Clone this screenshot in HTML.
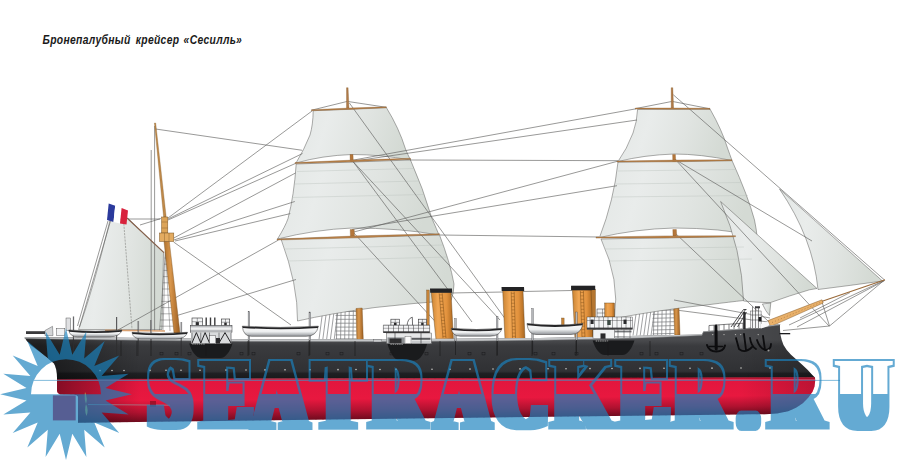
<!DOCTYPE html>
<html lang="ru"><head><meta charset="utf-8"><title>Бронепалубный крейсер «Сесилль»</title>
<style>html,body{margin:0;padding:0;background:#fff;overflow:hidden}svg{display:block}</style>
</head><body>
<svg width="911" height="462" viewBox="0 0 911 462">
<defs>
<linearGradient id="gHull" gradientUnits="userSpaceOnUse" x1="0" y1="340" x2="0" y2="379">
 <stop offset="0" stop-color="#4a4b4e"/>
 <stop offset="0.15" stop-color="#3a3b3e"/>
 <stop offset="0.8" stop-color="#303134"/>
 <stop offset="0.86" stop-color="#1f2023"/>
 <stop offset="1" stop-color="#19191b"/>
</linearGradient>
<linearGradient id="gStern" gradientUnits="userSpaceOnUse" x1="40" y1="0" x2="140" y2="0">
 <stop offset="0" stop-color="#000" stop-opacity="0.5"/>
 <stop offset="1" stop-color="#000" stop-opacity="0"/>
</linearGradient>
<linearGradient id="gBowSh" gradientUnits="userSpaceOnUse" x1="740" y1="0" x2="818" y2="0">
 <stop offset="0" stop-color="#000" stop-opacity="0"/>
 <stop offset="1" stop-color="#000" stop-opacity="0.18"/>
</linearGradient>
<linearGradient id="gFun" x1="0" y1="0" x2="1" y2="0">
 <stop offset="0" stop-color="#c98333"/>
 <stop offset="0.3" stop-color="#f0a653"/>
 <stop offset="0.7" stop-color="#e2923d"/>
 <stop offset="1" stop-color="#a8661f"/>
</linearGradient>
<linearGradient id="gMast" x1="0" y1="0" x2="1" y2="0">
 <stop offset="0" stop-color="#b0722e"/>
 <stop offset="0.4" stop-color="#d8964c"/>
 <stop offset="1" stop-color="#9c5e20"/>
</linearGradient>
<linearGradient id="gBoat" x1="0" y1="0" x2="0" y2="1">
 <stop offset="0" stop-color="#ffffff"/>
 <stop offset="0.55" stop-color="#eceeef"/>
 <stop offset="1" stop-color="#8f9297"/>
</linearGradient>
<linearGradient id="gSail" x1="0" y1="0" x2="1" y2="0.15">
 <stop offset="0" stop-color="#e3e7e5"/>
 <stop offset="0.3" stop-color="#e9eceb"/>
 <stop offset="0.65" stop-color="#e0e4e1"/>
 <stop offset="1" stop-color="#d4dad4"/>
</linearGradient>
<filter id="fWM" filterUnits="userSpaceOnUse" x="0" y="340" width="911" height="110" color-interpolation-filters="sRGB">
 <feMorphology in="SourceAlpha" operator="dilate" radius="7 2" result="F"/>
 <feMorphology in="SourceAlpha" operator="dilate" radius="5 0.4" result="I"/>
 <feFlood flood-color="#fff" x="0" y="340" width="911" height="54" result="top"/>
 <feComposite in="I" in2="top" operator="in" result="Itop"/>
 <feComposite in="F" in2="Itop" operator="out" result="shape"/>
 <feFlood flood-color="rgb(27,130,189)" flood-opacity="0.68" result="col"/>
 <feComposite in="col" in2="shape" operator="in"/>
</filter>
</defs>
<g id="shrouds" stroke="#77797b" stroke-width="0.7" fill="none">
<line x1="319.0" y1="339.5" x2="323.5" y2="305" stroke="#77797b" stroke-width="0.7"/>
<line x1="322.8" y1="339.5" x2="327.3" y2="305" stroke="#77797b" stroke-width="0.7"/>
<line x1="326.6" y1="339.5" x2="331.1" y2="305" stroke="#77797b" stroke-width="0.7"/>
<line x1="330.4" y1="339.5" x2="334.9" y2="305" stroke="#77797b" stroke-width="0.7"/>
<line x1="334.2" y1="339.5" x2="338.7" y2="305" stroke="#77797b" stroke-width="0.7"/>
<line x1="336.5" y1="339.5" x2="337.1" y2="300" stroke="#77797b" stroke-width="0.7"/>
<line x1="340.6" y1="339.5" x2="341.20000000000005" y2="300" stroke="#77797b" stroke-width="0.7"/>
<line x1="344.7" y1="339.5" x2="345.3" y2="300" stroke="#77797b" stroke-width="0.7"/>
<line x1="348.8" y1="339.5" x2="349.40000000000003" y2="300" stroke="#77797b" stroke-width="0.7"/>
<line x1="352.9" y1="339.5" x2="353.5" y2="300" stroke="#77797b" stroke-width="0.7"/>
<line x1="335.5" y1="311.5" x2="356.5" y2="311.5" stroke="#77797b" stroke-width="0.7"/>
<line x1="335.5" y1="315.4" x2="356.5" y2="315.4" stroke="#77797b" stroke-width="0.7"/>
<line x1="335.5" y1="319.3" x2="356.5" y2="319.3" stroke="#77797b" stroke-width="0.7"/>
<line x1="335.5" y1="323.2" x2="356.5" y2="323.2" stroke="#77797b" stroke-width="0.7"/>
<line x1="335.5" y1="327.1" x2="356.5" y2="327.1" stroke="#77797b" stroke-width="0.7"/>
<line x1="335.5" y1="331.0" x2="356.5" y2="331.0" stroke="#77797b" stroke-width="0.7"/>
<line x1="335.5" y1="334.9" x2="356.5" y2="334.9" stroke="#77797b" stroke-width="0.7"/>
<line x1="335.5" y1="338.8" x2="356.5" y2="338.8" stroke="#77797b" stroke-width="0.7"/>
<line x1="633.0" y1="335.5" x2="638.0" y2="300" stroke="#77797b" stroke-width="0.7"/>
<line x1="636.6" y1="335.5" x2="641.6" y2="300" stroke="#77797b" stroke-width="0.7"/>
<line x1="640.2" y1="335.5" x2="645.2" y2="300" stroke="#77797b" stroke-width="0.7"/>
<line x1="643.8" y1="335.5" x2="648.8" y2="300" stroke="#77797b" stroke-width="0.7"/>
<line x1="647.4" y1="335.5" x2="652.4" y2="300" stroke="#77797b" stroke-width="0.7"/>
<line x1="651.0" y1="335.5" x2="656.0" y2="300" stroke="#77797b" stroke-width="0.7"/>
<line x1="653.5" y1="335" x2="654.1" y2="298" stroke="#77797b" stroke-width="0.7"/>
<line x1="657.6" y1="335" x2="658.2" y2="298" stroke="#77797b" stroke-width="0.7"/>
<line x1="661.7" y1="335" x2="662.3000000000001" y2="298" stroke="#77797b" stroke-width="0.7"/>
<line x1="665.8" y1="335" x2="666.4" y2="298" stroke="#77797b" stroke-width="0.7"/>
<line x1="669.9" y1="335" x2="670.5" y2="298" stroke="#77797b" stroke-width="0.7"/>
<line x1="652.5" y1="310.5" x2="674.5" y2="310.0" stroke="#77797b" stroke-width="0.7"/>
<line x1="652.5" y1="314.4" x2="674.5" y2="313.9" stroke="#77797b" stroke-width="0.7"/>
<line x1="652.5" y1="318.3" x2="674.5" y2="317.8" stroke="#77797b" stroke-width="0.7"/>
<line x1="652.5" y1="322.2" x2="674.5" y2="321.7" stroke="#77797b" stroke-width="0.7"/>
<line x1="652.5" y1="326.1" x2="674.5" y2="325.6" stroke="#77797b" stroke-width="0.7"/>
<line x1="652.5" y1="330.0" x2="674.5" y2="329.5" stroke="#77797b" stroke-width="0.7"/>
<line x1="652.5" y1="333.9" x2="674.5" y2="333.4" stroke="#77797b" stroke-width="0.7"/>
</g>
<g id="sails">
<path d="M110,220 L128,218.5 L163.5,252.5 L162,329.5 L78.5,329.5 Q93,290 110,220 Z" fill="url(#gSail)" stroke="#5a5a58" stroke-width="0.5" stroke-linejoin="round"/>
<path d="M313.2,110.7 L386.3,107.5 Q399,128 405.5,149 Q408,155 410.5,160 Q380,154.5 352,154.5 Q322,155.5 296,163 Q304,150 310,135 Q313,125 313.2,110.7 Z" fill="url(#gSail)" stroke="#5a5a58" stroke-width="0.5" stroke-linejoin="round"/>
<path d="M296.2,164 L410.5,160 Q423,188 432,218.6 Q437,230 439,235 Q400,228 352,228 Q315,229.5 277.5,239 Q285.5,226 288,218.6 Q294,196 296.2,164 Z" fill="url(#gSail)" stroke="#5a5a58" stroke-width="0.5" stroke-linejoin="round"/>
<path d="M281,239 L439.5,235 Q450,262 454,284 Q454,293 451,300.5 Q415,303 375,307.5 Q330,313.5 297.5,321 Q298,285 281,239 Z" fill="url(#gSail)" stroke="#5a5a58" stroke-width="0.5" stroke-linejoin="round"/>
<path d="M637.6,109.4 L710,109 Q722,130 727.5,148 Q730,155 732,160.5 Q700,154 674,154 Q644,155 618,161.5 Q627,149 633,133 Q637,122 637.6,109.4 Z" fill="url(#gSail)" stroke="#5a5a58" stroke-width="0.5" stroke-linejoin="round"/>
<path d="M618,162 L732,160.5 Q748,196 754.5,220 Q756.5,230 757,236 Q720,228 674,228 Q635,229 599.5,237.5 Q614,200 618,162 Z" fill="url(#gSail)" stroke="#5a5a58" stroke-width="0.5" stroke-linejoin="round"/>
<path d="M601,239 L736,236.5 Q744,262 745,282 Q745,292 743.5,300.5 Q730,302 710,304.5 Q660,309.8 614.5,318.5 Q620,280 601,239 Z" fill="url(#gSail)" stroke="#5a5a58" stroke-width="0.5" stroke-linejoin="round"/>
<path d="M720.6,201.5 L817,288.5 L809.4,289.8 Q790,295.5 770,302.7 Q756,302.4 743.5,301 Q742,250 720.6,201.5 Z" fill="url(#gSail)" stroke="#5a5a58" stroke-width="0.5" stroke-linejoin="round"/>
<path d="M762.4,304 L770.8,303 L769.5,315.5 Q766,312 762.4,304 Z" fill="url(#gSail)" stroke="#5a5a58" stroke-width="0.5" stroke-linejoin="round"/>
<path d="M779.5,189 L882.5,281 Q850,285.5 818,289.5 Q813,238 779.5,189 Z" fill="url(#gSail)" stroke="#5a5a58" stroke-width="0.5" stroke-linejoin="round"/>
<line x1="297" y1="171.5" x2="414" y2="168.5" stroke="#b9bfba" stroke-width="0.4" fill="none"/>
<line x1="295" y1="184" x2="419" y2="181" stroke="#b9bfba" stroke-width="0.4" fill="none"/>
<line x1="292" y1="197.5" x2="424" y2="194.5" stroke="#b9bfba" stroke-width="0.4" fill="none"/>
<line x1="285" y1="249" x2="443" y2="245" stroke="#b9bfba" stroke-width="0.4" fill="none"/>
<line x1="288" y1="261" x2="448" y2="257" stroke="#b9bfba" stroke-width="0.4" fill="none"/>
<line x1="618" y1="171" x2="736" y2="169.5" stroke="#b9bfba" stroke-width="0.4" fill="none"/>
<line x1="616" y1="184" x2="742" y2="182.5" stroke="#b9bfba" stroke-width="0.4" fill="none"/>
<line x1="612" y1="197" x2="748" y2="195.5" stroke="#b9bfba" stroke-width="0.4" fill="none"/>
<line x1="605" y1="249" x2="744" y2="247" stroke="#b9bfba" stroke-width="0.4" fill="none"/>
<line x1="610" y1="261" x2="752" y2="259" stroke="#b9bfba" stroke-width="0.4" fill="none"/>
</g>
<g id="rigging">
<line x1="636" y1="108.8" x2="351" y2="160.5" stroke="#626260" stroke-width="0.65" fill="none"/>
<line x1="637" y1="120" x2="351" y2="161.5" stroke="#626260" stroke-width="0.65" fill="none"/>
<line x1="410" y1="160" x2="618" y2="160.7" stroke="#626260" stroke-width="0.65" fill="none"/>
<line x1="617" y1="161.4" x2="352" y2="232.5" stroke="#626260" stroke-width="0.65" fill="none"/>
<line x1="617" y1="185.7" x2="352" y2="229.5" stroke="#626260" stroke-width="0.65" fill="none"/>
<line x1="599" y1="237" x2="440" y2="235" stroke="#626260" stroke-width="0.65" fill="none"/>
<line x1="349.4" y1="103" x2="506" y2="320" stroke="#626260" stroke-width="0.65" fill="none"/>
<line x1="353" y1="161.5" x2="500" y2="320" stroke="#626260" stroke-width="0.65" fill="none"/>
<line x1="353" y1="161.5" x2="472" y2="322" stroke="#626260" stroke-width="0.65" fill="none"/>
<line x1="353" y1="232" x2="443" y2="330" stroke="#626260" stroke-width="0.65" fill="none"/>
<line x1="347.3" y1="101.4" x2="311.5" y2="110.2" stroke="#626260" stroke-width="0.65" fill="none"/>
<line x1="347.3" y1="101.4" x2="386.3" y2="107.3" stroke="#626260" stroke-width="0.65" fill="none"/>
<line x1="672.2" y1="101.4" x2="635.4" y2="108.6" stroke="#626260" stroke-width="0.65" fill="none"/>
<line x1="672.2" y1="101.4" x2="710" y2="108.8" stroke="#626260" stroke-width="0.65" fill="none"/>
<line x1="673.3" y1="94.8" x2="884" y2="279.5" stroke="#626260" stroke-width="0.65" fill="none"/>
<line x1="674" y1="158" x2="829" y2="326" stroke="#626260" stroke-width="0.65" fill="none"/>
<line x1="676" y1="160" x2="812" y2="241" stroke="#626260" stroke-width="0.65" fill="none"/>
<line x1="674" y1="232" x2="769" y2="322" stroke="#626260" stroke-width="0.65" fill="none"/>
<line x1="155.6" y1="129" x2="302.3" y2="150.3" stroke="#626260" stroke-width="0.65" fill="none"/>
<line x1="168" y1="218" x2="312" y2="111" stroke="#626260" stroke-width="0.65" fill="none"/>
<line x1="168" y1="219" x2="302.5" y2="153.5" stroke="#626260" stroke-width="0.65" fill="none"/>
<line x1="168" y1="220" x2="295.8" y2="163.3" stroke="#626260" stroke-width="0.65" fill="none"/>
<line x1="173.8" y1="238" x2="295.5" y2="173" stroke="#626260" stroke-width="0.65" fill="none"/>
<line x1="173.8" y1="240" x2="294.8" y2="201.5" stroke="#626260" stroke-width="0.65" fill="none"/>
<line x1="175" y1="241" x2="290.3" y2="213.6" stroke="#626260" stroke-width="0.65" fill="none"/>
<line x1="173.6" y1="242" x2="291" y2="325" stroke="#626260" stroke-width="0.65" fill="none"/>
<line x1="296" y1="279.5" x2="177" y2="315.5" stroke="#626260" stroke-width="0.65" fill="none"/>
<line x1="151.2" y1="150" x2="151.2" y2="331" stroke="#626260" stroke-width="0.65" fill="none"/>
<line x1="154.6" y1="126" x2="154.6" y2="331" stroke="#626260" stroke-width="0.65" fill="none"/>
<line x1="108" y1="221" x2="77.5" y2="326" stroke="#626260" stroke-width="0.65" fill="none"/>
<line x1="110.5" y1="221" x2="79.5" y2="327" stroke="#626260" stroke-width="0.65" fill="none"/>
<line x1="140" y1="225" x2="161" y2="218.5" stroke="#626260" stroke-width="0.65" fill="none"/>
<line x1="128" y1="219" x2="160" y2="219" stroke="#626260" stroke-width="0.65" fill="none"/>
<line x1="118" y1="330" x2="278.5" y2="240" stroke="#626260" stroke-width="0.65" fill="none"/>
<line x1="451" y1="293" x2="503" y2="292" stroke="#626260" stroke-width="0.65" fill="none"/>
<line x1="523" y1="291.5" x2="572" y2="290.5" stroke="#626260" stroke-width="0.65" fill="none"/>
<line x1="884.5" y1="280" x2="829.5" y2="326" stroke="#626260" stroke-width="0.65" fill="none"/>
<line x1="822" y1="302" x2="829.5" y2="326" stroke="#626260" stroke-width="0.65" fill="none"/>
<line x1="829.5" y1="326" x2="783" y2="330.5" stroke="#626260" stroke-width="0.65" fill="none"/>
<line x1="884.5" y1="280.3" x2="789" y2="325" stroke="#626260" stroke-width="0.65" fill="none"/>
<line x1="884.5" y1="280.6" x2="797" y2="327" stroke="#626260" stroke-width="0.65" fill="none"/>
<line x1="850" y1="292.5" x2="800" y2="318" stroke="#626260" stroke-width="0.65" fill="none"/>
<line x1="674" y1="300" x2="770" y2="318" stroke="#626260" stroke-width="0.65" fill="none"/>
<line x1="676" y1="310" x2="768" y2="322" stroke="#626260" stroke-width="0.65" fill="none"/>
<line x1="123.8" y1="223.5" x2="132" y2="329" stroke="#6e6e6a" stroke-width="0.5" stroke-dasharray="2.2 1"/>
</g>
<g id="masts">
<path d="M154.4,123 L155.7,123 L166.2,217 L163.6,217 Z" fill="#c08a4a" stroke="#7a5020" stroke-width="0.3"/>
<line x1="164.45" y1="258.0" x2="166.9" y2="258.0" stroke="#4a4a48" stroke-width="0.4"/>
<line x1="164.02375" y1="264.2" x2="167.5975" y2="264.2" stroke="#4a4a48" stroke-width="0.4"/>
<line x1="163.5975" y1="270.4" x2="168.295" y2="270.4" stroke="#4a4a48" stroke-width="0.4"/>
<line x1="163.17125" y1="276.6" x2="168.9925" y2="276.6" stroke="#4a4a48" stroke-width="0.4"/>
<line x1="162.745" y1="282.8" x2="169.69" y2="282.8" stroke="#4a4a48" stroke-width="0.4"/>
<line x1="162.31875" y1="289.0" x2="170.3875" y2="289.0" stroke="#4a4a48" stroke-width="0.4"/>
<line x1="161.8925" y1="295.2" x2="171.085" y2="295.2" stroke="#4a4a48" stroke-width="0.4"/>
<line x1="161.46625" y1="301.4" x2="171.7825" y2="301.4" stroke="#4a4a48" stroke-width="0.4"/>
<line x1="161.04" y1="307.6" x2="172.48" y2="307.6" stroke="#4a4a48" stroke-width="0.4"/>
<line x1="160.61375" y1="313.8" x2="173.1775" y2="313.8" stroke="#4a4a48" stroke-width="0.4"/>
<line x1="160.1875" y1="320.0" x2="173.875" y2="320.0" stroke="#4a4a48" stroke-width="0.4"/>
<line x1="159.76125" y1="326.2" x2="174.5725" y2="326.2" stroke="#4a4a48" stroke-width="0.4"/>
<line x1="165.5" y1="250" x2="159.5" y2="331" stroke="#4a4a48" stroke-width="0.4"/>
<line x1="165.5" y1="250" x2="163" y2="331" stroke="#4a4a48" stroke-width="0.4"/>
<line x1="165.5" y1="250" x2="170" y2="331" stroke="#4a4a48" stroke-width="0.4"/>
<rect x="161.6" y="217" width="6.2" height="16" fill="#dca458" stroke="#7a5525" stroke-width="0.5"/>
<line x1="161.6" y1="222" x2="167.8" y2="222" stroke="#7a5525" stroke-width="0.4"/>
<line x1="161.6" y1="228" x2="167.8" y2="228" stroke="#7a5525" stroke-width="0.4"/>
<rect x="159.5" y="233" width="14.3" height="8.5" fill="#e3ab60" stroke="#7a5525" stroke-width="0.5"/>
<line x1="164.5" y1="233" x2="164.5" y2="241.5" stroke="#7a5525" stroke-width="0.4"/>
<line x1="169" y1="233" x2="169" y2="241.5" stroke="#7a5525" stroke-width="0.4"/>
<path d="M164,241.5 L169.3,241.5 L180,333 L174,333 Z" fill="url(#gMast)" stroke="#7a5020" stroke-width="0.4"/>
<line x1="127" y1="218" x2="164" y2="252.6" stroke="#85604a" stroke-width="1.1"/>
<line x1="105" y1="330.3" x2="165" y2="331" stroke="#d9a070" stroke-width="1.4"/>
<path d="M346.5,87.7 L348.1,87.7 L349,108.5 L346.5,108.5 Z" fill="#b07a48" stroke="#7a5020" stroke-width="0.3"/>
<path d="M350,154.5 L353,154.5 L353.3,161.5 L350.2,161.5 Z" fill="#b5763a" stroke="#7a5020" stroke-width="0.3"/>
<path d="M350.2,229.5 L354.2,229.5 L354.5,236.5 L350.4,236.5 Z" fill="#b5763a" stroke="#7a5020" stroke-width="0.3"/>
<path d="M356,308.5 L362.2,308 L363.3,340 L356.8,340 Z" fill="url(#gMast)" stroke="#7a5020" stroke-width="0.4"/>
<path d="M671.2,87.7 L672.8,87.7 L673.6,108.5 L671.2,108.5 Z" fill="#b07a48" stroke="#7a5020" stroke-width="0.3"/>
<path d="M672.6,154.5 L675.4,154.5 L675.7,161.5 L672.8,161.5 Z" fill="#b5763a" stroke="#7a5020" stroke-width="0.3"/>
<path d="M672.8,229.5 L676.4,229.5 L676.7,236.5 L673,236.5 Z" fill="#b5763a" stroke="#7a5020" stroke-width="0.3"/>
<path d="M673.7,309 L679,308.3 L680,335 L674.7,335 Z" fill="url(#gMast)" stroke="#7a5020" stroke-width="0.4"/>
<line x1="820" y1="302" x2="885" y2="279.8" stroke="#9a6a3a" stroke-width="1.2"/>
<path d="M768,320.6 L822,299.8 L823.2,303 L770.5,326.6 Z" fill="#e8b06a" stroke="#7a5020" stroke-width="0.45"/>
<line x1="772" y1="322.5" x2="820" y2="302.6" stroke="#8a5a2a" stroke-width="0.5" stroke-dasharray="1 2.2"/>
</g>
<path d="M311.5,109.7 L348.9,108.1 L386.3,106.8 L386.3,107.8 L348.9,109.4 L311.5,110.7 Z" fill="#bd8348" stroke="#7d5630" stroke-width="0.35"/>
<path d="M295,162.6 L352.75,160.1 L410.5,158.3 L410.5,159.3 L352.75,161.79999999999998 L295,163.6 Z" fill="#bd8348" stroke="#7d5630" stroke-width="0.35"/>
<path d="M277.1,239.0 L358.3,235.85 L439.5,233.7 L439.5,234.7 L358.3,237.85 L277.1,240.0 Z" fill="#bd8348" stroke="#7d5630" stroke-width="0.35"/>
<path d="M635.4,108.1 L672.7,108.04999999999998 L710,108.3 L710,109.3 L672.7,109.35 L635.4,109.1 Z" fill="#bd8348" stroke="#7d5630" stroke-width="0.35"/>
<path d="M617,161.1 L674.5,160.1 L732,159.8 L732,160.8 L674.5,161.79999999999998 L617,162.1 Z" fill="#bd8348" stroke="#7d5630" stroke-width="0.35"/>
<path d="M596,237.1 L665.75,235.89999999999998 L735.5,235.7 L735.5,236.7 L665.75,237.89999999999998 L596,238.1 Z" fill="#bd8348" stroke="#7d5630" stroke-width="0.35"/>
<path d="M108.7,203.4 L115.2,205.8 L113.5,222 L107,220 Z" fill="#2b3a9c"/>
<path d="M115.2,205.8 L121.6,208 L120,223.5 L113.5,222 Z" fill="#ffffff"/>
<path d="M121.6,208 L128,210.5 L126.5,224.5 L120,223.5 Z" fill="#d8223c"/>
<rect x="426.6" y="290" width="2.6" height="42" fill="#c58338" stroke="#5b3a12" stroke-width="0.3"/>
<path d="M431.2,292.3 L451,292.3 L453.5,340 L436,340 Z" fill="url(#gFun)" stroke="#5b3a12" stroke-width="0.4"/>
<path d="M430.0,288.5 L452,288.5 L452.2,292.7 L430.2,292.7 Z" fill="#232325"/>
<line x1="439.2" y1="293.3" x2="443" y2="338" stroke="#7a4a14" stroke-width="0.5"/>
<line x1="442.2" y1="293.3" x2="446" y2="338" stroke="#7a4a14" stroke-width="0.5"/>
<line x1="439.3357142857143" y1="294.8964285714286" x2="442.3357142857143" y2="294.8964285714286" stroke="#7a4a14" stroke-width="0.4"/>
<line x1="439.60714285714283" y1="298.0892857142857" x2="442.60714285714283" y2="298.0892857142857" stroke="#7a4a14" stroke-width="0.4"/>
<line x1="439.87857142857143" y1="301.28214285714284" x2="442.87857142857143" y2="301.28214285714284" stroke="#7a4a14" stroke-width="0.4"/>
<line x1="440.15" y1="304.475" x2="443.15" y2="304.475" stroke="#7a4a14" stroke-width="0.4"/>
<line x1="440.4214285714286" y1="307.66785714285714" x2="443.4214285714286" y2="307.66785714285714" stroke="#7a4a14" stroke-width="0.4"/>
<line x1="440.6928571428571" y1="310.86071428571427" x2="443.6928571428571" y2="310.86071428571427" stroke="#7a4a14" stroke-width="0.4"/>
<line x1="440.9642857142857" y1="314.05357142857144" x2="443.9642857142857" y2="314.05357142857144" stroke="#7a4a14" stroke-width="0.4"/>
<line x1="441.23571428571427" y1="317.24642857142857" x2="444.23571428571427" y2="317.24642857142857" stroke="#7a4a14" stroke-width="0.4"/>
<line x1="441.50714285714287" y1="320.4392857142857" x2="444.50714285714287" y2="320.4392857142857" stroke="#7a4a14" stroke-width="0.4"/>
<line x1="441.7785714285714" y1="323.63214285714287" x2="444.7785714285714" y2="323.63214285714287" stroke="#7a4a14" stroke-width="0.4"/>
<line x1="442.05" y1="326.825" x2="445.05" y2="326.825" stroke="#7a4a14" stroke-width="0.4"/>
<line x1="442.32142857142856" y1="330.01785714285717" x2="445.32142857142856" y2="330.01785714285717" stroke="#7a4a14" stroke-width="0.4"/>
<line x1="442.59285714285716" y1="333.2107142857143" x2="445.59285714285716" y2="333.2107142857143" stroke="#7a4a14" stroke-width="0.4"/>
<line x1="442.8642857142857" y1="336.4035714285714" x2="445.8642857142857" y2="336.4035714285714" stroke="#7a4a14" stroke-width="0.4"/>
<path d="M502.7,290.7 L523,290.7 L525,340 L505,340 Z" fill="url(#gFun)" stroke="#5b3a12" stroke-width="0.4"/>
<path d="M501.5,286.9 L524,286.9 L524.2,291.09999999999997 L501.7,291.09999999999997 Z" fill="#232325"/>
<line x1="511.2" y1="291.7" x2="512.5" y2="338" stroke="#7a4a14" stroke-width="0.5"/>
<line x1="514.2" y1="291.7" x2="515.5" y2="338" stroke="#7a4a14" stroke-width="0.5"/>
<line x1="511.24642857142857" y1="293.3535714285714" x2="514.2464285714286" y2="293.3535714285714" stroke="#7a4a14" stroke-width="0.4"/>
<line x1="511.3392857142857" y1="296.6607142857143" x2="514.3392857142858" y2="296.6607142857143" stroke="#7a4a14" stroke-width="0.4"/>
<line x1="511.4321428571428" y1="299.96785714285716" x2="514.4321428571428" y2="299.96785714285716" stroke="#7a4a14" stroke-width="0.4"/>
<line x1="511.525" y1="303.275" x2="514.525" y2="303.275" stroke="#7a4a14" stroke-width="0.4"/>
<line x1="511.61785714285713" y1="306.58214285714286" x2="514.6178571428571" y2="306.58214285714286" stroke="#7a4a14" stroke-width="0.4"/>
<line x1="511.7107142857143" y1="309.88928571428573" x2="514.7107142857143" y2="309.88928571428573" stroke="#7a4a14" stroke-width="0.4"/>
<line x1="511.80357142857144" y1="313.19642857142856" x2="514.8035714285714" y2="313.19642857142856" stroke="#7a4a14" stroke-width="0.4"/>
<line x1="511.89642857142854" y1="316.50357142857143" x2="514.8964285714285" y2="316.50357142857143" stroke="#7a4a14" stroke-width="0.4"/>
<line x1="511.9892857142857" y1="319.81071428571425" x2="514.9892857142856" y2="319.81071428571425" stroke="#7a4a14" stroke-width="0.4"/>
<line x1="512.0821428571428" y1="323.11785714285713" x2="515.0821428571428" y2="323.11785714285713" stroke="#7a4a14" stroke-width="0.4"/>
<line x1="512.175" y1="326.425" x2="515.175" y2="326.425" stroke="#7a4a14" stroke-width="0.4"/>
<line x1="512.2678571428571" y1="329.73214285714283" x2="515.2678571428571" y2="329.73214285714283" stroke="#7a4a14" stroke-width="0.4"/>
<line x1="512.3607142857143" y1="333.0392857142857" x2="515.3607142857143" y2="333.0392857142857" stroke="#7a4a14" stroke-width="0.4"/>
<line x1="512.4535714285714" y1="336.3464285714286" x2="515.4535714285714" y2="336.3464285714286" stroke="#7a4a14" stroke-width="0.4"/>
<rect x="589" y="289" width="6.5" height="50" fill="#b57630" stroke="#5b3a12" stroke-width="0.3"/>
<path d="M572.4,289.8 L591,289.8 L593,340 L575,340 Z" fill="url(#gFun)" stroke="#5b3a12" stroke-width="0.4"/>
<path d="M571.1999999999999,286.0 L592,286.0 L592.2,290.2 L571.4,290.2 Z" fill="#232325"/>
<line x1="580.4" y1="290.8" x2="582" y2="338" stroke="#7a4a14" stroke-width="0.5"/>
<line x1="583.4" y1="290.8" x2="585" y2="338" stroke="#7a4a14" stroke-width="0.5"/>
<line x1="580.4571428571428" y1="292.4857142857143" x2="583.4571428571428" y2="292.4857142857143" stroke="#7a4a14" stroke-width="0.4"/>
<line x1="580.5714285714286" y1="295.8571428571429" x2="583.5714285714286" y2="295.8571428571429" stroke="#7a4a14" stroke-width="0.4"/>
<line x1="580.6857142857143" y1="299.22857142857146" x2="583.6857142857143" y2="299.22857142857146" stroke="#7a4a14" stroke-width="0.4"/>
<line x1="580.8" y1="302.6" x2="583.8" y2="302.6" stroke="#7a4a14" stroke-width="0.4"/>
<line x1="580.9142857142857" y1="305.9714285714286" x2="583.9142857142857" y2="305.9714285714286" stroke="#7a4a14" stroke-width="0.4"/>
<line x1="581.0285714285715" y1="309.34285714285716" x2="584.0285714285715" y2="309.34285714285716" stroke="#7a4a14" stroke-width="0.4"/>
<line x1="581.1428571428571" y1="312.7142857142857" x2="584.1428571428571" y2="312.7142857142857" stroke="#7a4a14" stroke-width="0.4"/>
<line x1="581.2571428571429" y1="316.0857142857143" x2="584.2571428571429" y2="316.0857142857143" stroke="#7a4a14" stroke-width="0.4"/>
<line x1="581.3714285714285" y1="319.45714285714286" x2="584.3714285714285" y2="319.45714285714286" stroke="#7a4a14" stroke-width="0.4"/>
<line x1="581.4857142857143" y1="322.8285714285714" x2="584.4857142857143" y2="322.8285714285714" stroke="#7a4a14" stroke-width="0.4"/>
<line x1="581.6" y1="326.2" x2="584.6" y2="326.2" stroke="#7a4a14" stroke-width="0.4"/>
<line x1="581.7142857142857" y1="329.57142857142856" x2="584.7142857142857" y2="329.57142857142856" stroke="#7a4a14" stroke-width="0.4"/>
<line x1="581.8285714285714" y1="332.9428571428571" x2="584.8285714285714" y2="332.9428571428571" stroke="#7a4a14" stroke-width="0.4"/>
<line x1="581.9428571428572" y1="336.3142857142857" x2="584.9428571428572" y2="336.3142857142857" stroke="#7a4a14" stroke-width="0.4"/>
<rect x="571.2" y="285.7" width="24" height="4.3" fill="#232325"/>
<rect x="561.5" y="318" width="2.6" height="9" fill="#c58338" stroke="#5b3a12" stroke-width="0.3"/>
<path d="M24.6,337.2 L60,337.59999999999997 L100,337.40000000000003 L150,338.0 L240,339.20000000000005 L380,339.3 L480,338.6 L540,337.90000000000003 L600,336.8 L650,335.40000000000003 L702,334.59999999999997 L703.5,331.2 L740,328.8 L768,325.8 L780.2,324 L780,325 Q779.8,330 780.5,335 Q781.5,340.5 783.5,344.9 Q786.5,350.5 791,354.8 L802.2,364.8 Q808.5,370.5 812.1,374.7 Q814.2,376.5 815,377.6 L57,379.2 Q57.2,369 54,363.5 Q44,355 30.7,345 Q26.5,341.5 24.6,337.2 Z" fill="url(#gHull)"/>
<path d="M24.6,337.2 L60,337.59999999999997 L100,337.40000000000003 L150,338.0 L240,339.20000000000005 L380,339.3 L480,338.6 L540,337.90000000000003 L600,336.8 L650,335.40000000000003 L702,334.59999999999997 L703.5,331.2 L740,328.8 L768,325.8 L780.2,324 L780,325 Q779.8,330 780.5,335 Q781.5,340.5 783.5,344.9 Q786.5,350.5 791,354.8 L802.2,364.8 Q808.5,370.5 812.1,374.7 Q814.2,376.5 815,377.6 L57,379.2 Q57.2,369 54,363.5 Q44,355 30.7,345 Q26.5,341.5 24.6,337.2 Z" fill="url(#gStern)"/>
<path d="M24.6,337.2 L60,337.59999999999997 L100,337.40000000000003 L150,338.0 L240,339.20000000000005 L380,339.3 L480,338.6 L540,337.90000000000003 L600,336.8 L650,335.40000000000003 L702,334.59999999999997 L703.5,331.2 L740,328.8 L768,325.8 L780.2,324 L780,325 Q779.8,330 780.5,335 Q781.5,340.5 783.5,344.9 Q786.5,350.5 791,354.8 L802.2,364.8 Q808.5,370.5 812.1,374.7 Q814.2,376.5 815,377.6 L57,379.2 Q57.2,369 54,363.5 Q44,355 30.7,345 Q26.5,341.5 24.6,337.2 Z" fill="url(#gBowSh)"/>
<clipPath id="cRed"><path d="M57,378.9 L815,377.2 L815.2,380.8 L814.6,386.4 L812.4,392 L808.4,397.6 L802.8,403.3 L796,407.8 L788.2,411.2 L776.9,413.4 L765.6,414.2 L750,414.3 L740,414.4 L78,422.8 L78,396.5 Q77,395 74,394.8 L60,394.6 Q57.5,394 57,391 Z"/></clipPath>
<g clip-path="url(#cRed)">
<linearGradient id="gR0" gradientUnits="userSpaceOnUse" x1="0" y1="378.91" x2="0" y2="423.14"><stop offset="0" stop-color="#a80e28"/><stop offset="0.07" stop-color="#e2163e"/><stop offset="0.5" stop-color="#e8183f"/><stop offset="0.78" stop-color="#b01230"/><stop offset="1" stop-color="#700b1e"/></linearGradient>
<rect x="49.7" y="370" width="7.6" height="60" fill="url(#gR0)"/>
<linearGradient id="gR1" gradientUnits="userSpaceOnUse" x1="0" y1="378.89" x2="0" y2="423.05"><stop offset="0" stop-color="#a80e28"/><stop offset="0.07" stop-color="#e2163e"/><stop offset="0.5" stop-color="#e8183f"/><stop offset="0.78" stop-color="#b01230"/><stop offset="1" stop-color="#700b1e"/></linearGradient>
<rect x="56.7" y="370" width="7.6" height="60" fill="url(#gR1)"/>
<linearGradient id="gR2" gradientUnits="userSpaceOnUse" x1="0" y1="378.88" x2="0" y2="422.96"><stop offset="0" stop-color="#a80e28"/><stop offset="0.07" stop-color="#e2163e"/><stop offset="0.5" stop-color="#e8183f"/><stop offset="0.78" stop-color="#b01230"/><stop offset="1" stop-color="#700b1e"/></linearGradient>
<rect x="63.7" y="370" width="7.6" height="60" fill="url(#gR2)"/>
<linearGradient id="gR3" gradientUnits="userSpaceOnUse" x1="0" y1="378.86" x2="0" y2="422.87"><stop offset="0" stop-color="#a80e28"/><stop offset="0.07" stop-color="#e2163e"/><stop offset="0.5" stop-color="#e8183f"/><stop offset="0.78" stop-color="#b01230"/><stop offset="1" stop-color="#700b1e"/></linearGradient>
<rect x="70.7" y="370" width="7.6" height="60" fill="url(#gR3)"/>
<linearGradient id="gR4" gradientUnits="userSpaceOnUse" x1="0" y1="378.85" x2="0" y2="422.78"><stop offset="0" stop-color="#a80e28"/><stop offset="0.07" stop-color="#e2163e"/><stop offset="0.5" stop-color="#e8183f"/><stop offset="0.78" stop-color="#b01230"/><stop offset="1" stop-color="#700b1e"/></linearGradient>
<rect x="77.7" y="370" width="7.6" height="60" fill="url(#gR4)"/>
<linearGradient id="gR5" gradientUnits="userSpaceOnUse" x1="0" y1="378.83" x2="0" y2="422.69"><stop offset="0" stop-color="#a80e28"/><stop offset="0.07" stop-color="#e2163e"/><stop offset="0.5" stop-color="#e8183f"/><stop offset="0.78" stop-color="#b01230"/><stop offset="1" stop-color="#700b1e"/></linearGradient>
<rect x="84.7" y="370" width="7.6" height="60" fill="url(#gR5)"/>
<linearGradient id="gR6" gradientUnits="userSpaceOnUse" x1="0" y1="378.81" x2="0" y2="422.60"><stop offset="0" stop-color="#a80e28"/><stop offset="0.07" stop-color="#e2163e"/><stop offset="0.5" stop-color="#e8183f"/><stop offset="0.78" stop-color="#b01230"/><stop offset="1" stop-color="#700b1e"/></linearGradient>
<rect x="91.7" y="370" width="7.6" height="60" fill="url(#gR6)"/>
<linearGradient id="gR7" gradientUnits="userSpaceOnUse" x1="0" y1="378.80" x2="0" y2="422.51"><stop offset="0" stop-color="#a80e28"/><stop offset="0.07" stop-color="#e2163e"/><stop offset="0.5" stop-color="#e8183f"/><stop offset="0.78" stop-color="#b01230"/><stop offset="1" stop-color="#700b1e"/></linearGradient>
<rect x="98.7" y="370" width="7.6" height="60" fill="url(#gR7)"/>
<linearGradient id="gR8" gradientUnits="userSpaceOnUse" x1="0" y1="378.78" x2="0" y2="422.42"><stop offset="0" stop-color="#a80e28"/><stop offset="0.07" stop-color="#e2163e"/><stop offset="0.5" stop-color="#e8183f"/><stop offset="0.78" stop-color="#b01230"/><stop offset="1" stop-color="#700b1e"/></linearGradient>
<rect x="105.7" y="370" width="7.6" height="60" fill="url(#gR8)"/>
<linearGradient id="gR9" gradientUnits="userSpaceOnUse" x1="0" y1="378.77" x2="0" y2="422.34"><stop offset="0" stop-color="#a80e28"/><stop offset="0.07" stop-color="#e2163e"/><stop offset="0.5" stop-color="#e8183f"/><stop offset="0.78" stop-color="#b01230"/><stop offset="1" stop-color="#700b1e"/></linearGradient>
<rect x="112.7" y="370" width="7.6" height="60" fill="url(#gR9)"/>
<linearGradient id="gR10" gradientUnits="userSpaceOnUse" x1="0" y1="378.75" x2="0" y2="422.25"><stop offset="0" stop-color="#a80e28"/><stop offset="0.07" stop-color="#e2163e"/><stop offset="0.5" stop-color="#e8183f"/><stop offset="0.78" stop-color="#b01230"/><stop offset="1" stop-color="#700b1e"/></linearGradient>
<rect x="119.7" y="370" width="7.6" height="60" fill="url(#gR10)"/>
<linearGradient id="gR11" gradientUnits="userSpaceOnUse" x1="0" y1="378.74" x2="0" y2="422.16"><stop offset="0" stop-color="#a80e28"/><stop offset="0.07" stop-color="#e2163e"/><stop offset="0.5" stop-color="#e8183f"/><stop offset="0.78" stop-color="#b01230"/><stop offset="1" stop-color="#700b1e"/></linearGradient>
<rect x="126.7" y="370" width="7.6" height="60" fill="url(#gR11)"/>
<linearGradient id="gR12" gradientUnits="userSpaceOnUse" x1="0" y1="378.72" x2="0" y2="422.07"><stop offset="0" stop-color="#a80e28"/><stop offset="0.07" stop-color="#e2163e"/><stop offset="0.5" stop-color="#e8183f"/><stop offset="0.78" stop-color="#b01230"/><stop offset="1" stop-color="#700b1e"/></linearGradient>
<rect x="133.7" y="370" width="7.6" height="60" fill="url(#gR12)"/>
<linearGradient id="gR13" gradientUnits="userSpaceOnUse" x1="0" y1="378.70" x2="0" y2="421.98"><stop offset="0" stop-color="#a80e28"/><stop offset="0.07" stop-color="#e2163e"/><stop offset="0.5" stop-color="#e8183f"/><stop offset="0.78" stop-color="#b01230"/><stop offset="1" stop-color="#700b1e"/></linearGradient>
<rect x="140.7" y="370" width="7.6" height="60" fill="url(#gR13)"/>
<linearGradient id="gR14" gradientUnits="userSpaceOnUse" x1="0" y1="378.69" x2="0" y2="421.89"><stop offset="0" stop-color="#a80e28"/><stop offset="0.07" stop-color="#e2163e"/><stop offset="0.5" stop-color="#e8183f"/><stop offset="0.78" stop-color="#b01230"/><stop offset="1" stop-color="#700b1e"/></linearGradient>
<rect x="147.7" y="370" width="7.6" height="60" fill="url(#gR14)"/>
<linearGradient id="gR15" gradientUnits="userSpaceOnUse" x1="0" y1="378.67" x2="0" y2="421.80"><stop offset="0" stop-color="#a80e28"/><stop offset="0.07" stop-color="#e2163e"/><stop offset="0.5" stop-color="#e8183f"/><stop offset="0.78" stop-color="#b01230"/><stop offset="1" stop-color="#700b1e"/></linearGradient>
<rect x="154.7" y="370" width="7.6" height="60" fill="url(#gR15)"/>
<linearGradient id="gR16" gradientUnits="userSpaceOnUse" x1="0" y1="378.66" x2="0" y2="421.71"><stop offset="0" stop-color="#a80e28"/><stop offset="0.07" stop-color="#e2163e"/><stop offset="0.5" stop-color="#e8183f"/><stop offset="0.78" stop-color="#b01230"/><stop offset="1" stop-color="#700b1e"/></linearGradient>
<rect x="161.7" y="370" width="7.6" height="60" fill="url(#gR16)"/>
<linearGradient id="gR17" gradientUnits="userSpaceOnUse" x1="0" y1="378.64" x2="0" y2="421.62"><stop offset="0" stop-color="#a80e28"/><stop offset="0.07" stop-color="#e2163e"/><stop offset="0.5" stop-color="#e8183f"/><stop offset="0.78" stop-color="#b01230"/><stop offset="1" stop-color="#700b1e"/></linearGradient>
<rect x="168.7" y="370" width="7.6" height="60" fill="url(#gR17)"/>
<linearGradient id="gR18" gradientUnits="userSpaceOnUse" x1="0" y1="378.63" x2="0" y2="421.53"><stop offset="0" stop-color="#a80e28"/><stop offset="0.07" stop-color="#e2163e"/><stop offset="0.5" stop-color="#e8183f"/><stop offset="0.78" stop-color="#b01230"/><stop offset="1" stop-color="#700b1e"/></linearGradient>
<rect x="175.7" y="370" width="7.6" height="60" fill="url(#gR18)"/>
<linearGradient id="gR19" gradientUnits="userSpaceOnUse" x1="0" y1="378.61" x2="0" y2="421.44"><stop offset="0" stop-color="#a80e28"/><stop offset="0.07" stop-color="#e2163e"/><stop offset="0.5" stop-color="#e8183f"/><stop offset="0.78" stop-color="#b01230"/><stop offset="1" stop-color="#700b1e"/></linearGradient>
<rect x="182.7" y="370" width="7.6" height="60" fill="url(#gR19)"/>
<linearGradient id="gR20" gradientUnits="userSpaceOnUse" x1="0" y1="378.59" x2="0" y2="421.36"><stop offset="0" stop-color="#a80e28"/><stop offset="0.07" stop-color="#e2163e"/><stop offset="0.5" stop-color="#e8183f"/><stop offset="0.78" stop-color="#b01230"/><stop offset="1" stop-color="#700b1e"/></linearGradient>
<rect x="189.7" y="370" width="7.6" height="60" fill="url(#gR20)"/>
<linearGradient id="gR21" gradientUnits="userSpaceOnUse" x1="0" y1="378.58" x2="0" y2="421.27"><stop offset="0" stop-color="#a80e28"/><stop offset="0.07" stop-color="#e2163e"/><stop offset="0.5" stop-color="#e8183f"/><stop offset="0.78" stop-color="#b01230"/><stop offset="1" stop-color="#700b1e"/></linearGradient>
<rect x="196.7" y="370" width="7.6" height="60" fill="url(#gR21)"/>
<linearGradient id="gR22" gradientUnits="userSpaceOnUse" x1="0" y1="378.56" x2="0" y2="421.18"><stop offset="0" stop-color="#a80e28"/><stop offset="0.07" stop-color="#e2163e"/><stop offset="0.5" stop-color="#e8183f"/><stop offset="0.78" stop-color="#b01230"/><stop offset="1" stop-color="#700b1e"/></linearGradient>
<rect x="203.7" y="370" width="7.6" height="60" fill="url(#gR22)"/>
<linearGradient id="gR23" gradientUnits="userSpaceOnUse" x1="0" y1="378.55" x2="0" y2="421.09"><stop offset="0" stop-color="#a80e28"/><stop offset="0.07" stop-color="#e2163e"/><stop offset="0.5" stop-color="#e8183f"/><stop offset="0.78" stop-color="#b01230"/><stop offset="1" stop-color="#700b1e"/></linearGradient>
<rect x="210.7" y="370" width="7.6" height="60" fill="url(#gR23)"/>
<linearGradient id="gR24" gradientUnits="userSpaceOnUse" x1="0" y1="378.53" x2="0" y2="421.00"><stop offset="0" stop-color="#a80e28"/><stop offset="0.07" stop-color="#e2163e"/><stop offset="0.5" stop-color="#e8183f"/><stop offset="0.78" stop-color="#b01230"/><stop offset="1" stop-color="#700b1e"/></linearGradient>
<rect x="217.7" y="370" width="7.6" height="60" fill="url(#gR24)"/>
<linearGradient id="gR25" gradientUnits="userSpaceOnUse" x1="0" y1="378.52" x2="0" y2="420.91"><stop offset="0" stop-color="#a80e28"/><stop offset="0.07" stop-color="#e2163e"/><stop offset="0.5" stop-color="#e8183f"/><stop offset="0.78" stop-color="#b01230"/><stop offset="1" stop-color="#700b1e"/></linearGradient>
<rect x="224.7" y="370" width="7.6" height="60" fill="url(#gR25)"/>
<linearGradient id="gR26" gradientUnits="userSpaceOnUse" x1="0" y1="378.50" x2="0" y2="420.82"><stop offset="0" stop-color="#a80e28"/><stop offset="0.07" stop-color="#e2163e"/><stop offset="0.5" stop-color="#e8183f"/><stop offset="0.78" stop-color="#b01230"/><stop offset="1" stop-color="#700b1e"/></linearGradient>
<rect x="231.7" y="370" width="7.6" height="60" fill="url(#gR26)"/>
<linearGradient id="gR27" gradientUnits="userSpaceOnUse" x1="0" y1="378.48" x2="0" y2="420.73"><stop offset="0" stop-color="#a80e28"/><stop offset="0.07" stop-color="#e2163e"/><stop offset="0.5" stop-color="#e8183f"/><stop offset="0.78" stop-color="#b01230"/><stop offset="1" stop-color="#700b1e"/></linearGradient>
<rect x="238.7" y="370" width="7.6" height="60" fill="url(#gR27)"/>
<linearGradient id="gR28" gradientUnits="userSpaceOnUse" x1="0" y1="378.47" x2="0" y2="420.64"><stop offset="0" stop-color="#a80e28"/><stop offset="0.07" stop-color="#e2163e"/><stop offset="0.5" stop-color="#e8183f"/><stop offset="0.78" stop-color="#b01230"/><stop offset="1" stop-color="#700b1e"/></linearGradient>
<rect x="245.7" y="370" width="7.6" height="60" fill="url(#gR28)"/>
<linearGradient id="gR29" gradientUnits="userSpaceOnUse" x1="0" y1="378.45" x2="0" y2="420.55"><stop offset="0" stop-color="#a80e28"/><stop offset="0.07" stop-color="#e2163e"/><stop offset="0.5" stop-color="#e8183f"/><stop offset="0.78" stop-color="#b01230"/><stop offset="1" stop-color="#700b1e"/></linearGradient>
<rect x="252.7" y="370" width="7.6" height="60" fill="url(#gR29)"/>
<linearGradient id="gR30" gradientUnits="userSpaceOnUse" x1="0" y1="378.44" x2="0" y2="420.46"><stop offset="0" stop-color="#a80e28"/><stop offset="0.07" stop-color="#e2163e"/><stop offset="0.5" stop-color="#e8183f"/><stop offset="0.78" stop-color="#b01230"/><stop offset="1" stop-color="#700b1e"/></linearGradient>
<rect x="259.7" y="370" width="7.6" height="60" fill="url(#gR30)"/>
<linearGradient id="gR31" gradientUnits="userSpaceOnUse" x1="0" y1="378.42" x2="0" y2="420.38"><stop offset="0" stop-color="#a80e28"/><stop offset="0.07" stop-color="#e2163e"/><stop offset="0.5" stop-color="#e8183f"/><stop offset="0.78" stop-color="#b01230"/><stop offset="1" stop-color="#700b1e"/></linearGradient>
<rect x="266.7" y="370" width="7.6" height="60" fill="url(#gR31)"/>
<linearGradient id="gR32" gradientUnits="userSpaceOnUse" x1="0" y1="378.41" x2="0" y2="420.29"><stop offset="0" stop-color="#a80e28"/><stop offset="0.07" stop-color="#e2163e"/><stop offset="0.5" stop-color="#e8183f"/><stop offset="0.78" stop-color="#b01230"/><stop offset="1" stop-color="#700b1e"/></linearGradient>
<rect x="273.7" y="370" width="7.6" height="60" fill="url(#gR32)"/>
<linearGradient id="gR33" gradientUnits="userSpaceOnUse" x1="0" y1="378.39" x2="0" y2="420.20"><stop offset="0" stop-color="#a80e28"/><stop offset="0.07" stop-color="#e2163e"/><stop offset="0.5" stop-color="#e8183f"/><stop offset="0.78" stop-color="#b01230"/><stop offset="1" stop-color="#700b1e"/></linearGradient>
<rect x="280.7" y="370" width="7.6" height="60" fill="url(#gR33)"/>
<linearGradient id="gR34" gradientUnits="userSpaceOnUse" x1="0" y1="378.37" x2="0" y2="420.11"><stop offset="0" stop-color="#a80e28"/><stop offset="0.07" stop-color="#e2163e"/><stop offset="0.5" stop-color="#e8183f"/><stop offset="0.78" stop-color="#b01230"/><stop offset="1" stop-color="#700b1e"/></linearGradient>
<rect x="287.7" y="370" width="7.6" height="60" fill="url(#gR34)"/>
<linearGradient id="gR35" gradientUnits="userSpaceOnUse" x1="0" y1="378.36" x2="0" y2="420.02"><stop offset="0" stop-color="#a80e28"/><stop offset="0.07" stop-color="#e2163e"/><stop offset="0.5" stop-color="#e8183f"/><stop offset="0.78" stop-color="#b01230"/><stop offset="1" stop-color="#700b1e"/></linearGradient>
<rect x="294.7" y="370" width="7.6" height="60" fill="url(#gR35)"/>
<linearGradient id="gR36" gradientUnits="userSpaceOnUse" x1="0" y1="378.34" x2="0" y2="419.93"><stop offset="0" stop-color="#a80e28"/><stop offset="0.07" stop-color="#e2163e"/><stop offset="0.5" stop-color="#e8183f"/><stop offset="0.78" stop-color="#b01230"/><stop offset="1" stop-color="#700b1e"/></linearGradient>
<rect x="301.7" y="370" width="7.6" height="60" fill="url(#gR36)"/>
<linearGradient id="gR37" gradientUnits="userSpaceOnUse" x1="0" y1="378.33" x2="0" y2="419.84"><stop offset="0" stop-color="#a80e28"/><stop offset="0.07" stop-color="#e2163e"/><stop offset="0.5" stop-color="#e8183f"/><stop offset="0.78" stop-color="#b01230"/><stop offset="1" stop-color="#700b1e"/></linearGradient>
<rect x="308.7" y="370" width="7.6" height="60" fill="url(#gR37)"/>
<linearGradient id="gR38" gradientUnits="userSpaceOnUse" x1="0" y1="378.31" x2="0" y2="419.75"><stop offset="0" stop-color="#a80e28"/><stop offset="0.07" stop-color="#e2163e"/><stop offset="0.5" stop-color="#e8183f"/><stop offset="0.78" stop-color="#b01230"/><stop offset="1" stop-color="#700b1e"/></linearGradient>
<rect x="315.7" y="370" width="7.6" height="60" fill="url(#gR38)"/>
<linearGradient id="gR39" gradientUnits="userSpaceOnUse" x1="0" y1="378.30" x2="0" y2="419.66"><stop offset="0" stop-color="#a80e28"/><stop offset="0.07" stop-color="#e2163e"/><stop offset="0.5" stop-color="#e8183f"/><stop offset="0.78" stop-color="#b01230"/><stop offset="1" stop-color="#700b1e"/></linearGradient>
<rect x="322.7" y="370" width="7.6" height="60" fill="url(#gR39)"/>
<linearGradient id="gR40" gradientUnits="userSpaceOnUse" x1="0" y1="378.28" x2="0" y2="419.57"><stop offset="0" stop-color="#a80e28"/><stop offset="0.07" stop-color="#e2163e"/><stop offset="0.5" stop-color="#e8183f"/><stop offset="0.78" stop-color="#b01230"/><stop offset="1" stop-color="#700b1e"/></linearGradient>
<rect x="329.7" y="370" width="7.6" height="60" fill="url(#gR40)"/>
<linearGradient id="gR41" gradientUnits="userSpaceOnUse" x1="0" y1="378.26" x2="0" y2="419.48"><stop offset="0" stop-color="#a80e28"/><stop offset="0.07" stop-color="#e2163e"/><stop offset="0.5" stop-color="#e8183f"/><stop offset="0.78" stop-color="#b01230"/><stop offset="1" stop-color="#700b1e"/></linearGradient>
<rect x="336.7" y="370" width="7.6" height="60" fill="url(#gR41)"/>
<linearGradient id="gR42" gradientUnits="userSpaceOnUse" x1="0" y1="378.25" x2="0" y2="419.39"><stop offset="0" stop-color="#a80e28"/><stop offset="0.07" stop-color="#e2163e"/><stop offset="0.5" stop-color="#e8183f"/><stop offset="0.78" stop-color="#b01230"/><stop offset="1" stop-color="#700b1e"/></linearGradient>
<rect x="343.7" y="370" width="7.6" height="60" fill="url(#gR42)"/>
<linearGradient id="gR43" gradientUnits="userSpaceOnUse" x1="0" y1="378.23" x2="0" y2="419.31"><stop offset="0" stop-color="#a80e28"/><stop offset="0.07" stop-color="#e2163e"/><stop offset="0.5" stop-color="#e8183f"/><stop offset="0.78" stop-color="#b01230"/><stop offset="1" stop-color="#700b1e"/></linearGradient>
<rect x="350.7" y="370" width="7.6" height="60" fill="url(#gR43)"/>
<linearGradient id="gR44" gradientUnits="userSpaceOnUse" x1="0" y1="378.22" x2="0" y2="419.22"><stop offset="0" stop-color="#a80e28"/><stop offset="0.07" stop-color="#e2163e"/><stop offset="0.5" stop-color="#e8183f"/><stop offset="0.78" stop-color="#b01230"/><stop offset="1" stop-color="#700b1e"/></linearGradient>
<rect x="357.7" y="370" width="7.6" height="60" fill="url(#gR44)"/>
<linearGradient id="gR45" gradientUnits="userSpaceOnUse" x1="0" y1="378.20" x2="0" y2="419.13"><stop offset="0" stop-color="#a80e28"/><stop offset="0.07" stop-color="#e2163e"/><stop offset="0.5" stop-color="#e8183f"/><stop offset="0.78" stop-color="#b01230"/><stop offset="1" stop-color="#700b1e"/></linearGradient>
<rect x="364.7" y="370" width="7.6" height="60" fill="url(#gR45)"/>
<linearGradient id="gR46" gradientUnits="userSpaceOnUse" x1="0" y1="378.19" x2="0" y2="419.04"><stop offset="0" stop-color="#a80e28"/><stop offset="0.07" stop-color="#e2163e"/><stop offset="0.5" stop-color="#e8183f"/><stop offset="0.78" stop-color="#b01230"/><stop offset="1" stop-color="#700b1e"/></linearGradient>
<rect x="371.7" y="370" width="7.6" height="60" fill="url(#gR46)"/>
<linearGradient id="gR47" gradientUnits="userSpaceOnUse" x1="0" y1="378.17" x2="0" y2="418.95"><stop offset="0" stop-color="#a80e28"/><stop offset="0.07" stop-color="#e2163e"/><stop offset="0.5" stop-color="#e8183f"/><stop offset="0.78" stop-color="#b01230"/><stop offset="1" stop-color="#700b1e"/></linearGradient>
<rect x="378.7" y="370" width="7.6" height="60" fill="url(#gR47)"/>
<linearGradient id="gR48" gradientUnits="userSpaceOnUse" x1="0" y1="378.16" x2="0" y2="418.86"><stop offset="0" stop-color="#a80e28"/><stop offset="0.07" stop-color="#e2163e"/><stop offset="0.5" stop-color="#e8183f"/><stop offset="0.78" stop-color="#b01230"/><stop offset="1" stop-color="#700b1e"/></linearGradient>
<rect x="385.7" y="370" width="7.6" height="60" fill="url(#gR48)"/>
<linearGradient id="gR49" gradientUnits="userSpaceOnUse" x1="0" y1="378.14" x2="0" y2="418.77"><stop offset="0" stop-color="#a80e28"/><stop offset="0.07" stop-color="#e2163e"/><stop offset="0.5" stop-color="#e8183f"/><stop offset="0.78" stop-color="#b01230"/><stop offset="1" stop-color="#700b1e"/></linearGradient>
<rect x="392.7" y="370" width="7.6" height="60" fill="url(#gR49)"/>
<linearGradient id="gR50" gradientUnits="userSpaceOnUse" x1="0" y1="378.12" x2="0" y2="418.68"><stop offset="0" stop-color="#a80e28"/><stop offset="0.07" stop-color="#e2163e"/><stop offset="0.5" stop-color="#e8183f"/><stop offset="0.78" stop-color="#b01230"/><stop offset="1" stop-color="#700b1e"/></linearGradient>
<rect x="399.7" y="370" width="7.6" height="60" fill="url(#gR50)"/>
<linearGradient id="gR51" gradientUnits="userSpaceOnUse" x1="0" y1="378.11" x2="0" y2="418.59"><stop offset="0" stop-color="#a80e28"/><stop offset="0.07" stop-color="#e2163e"/><stop offset="0.5" stop-color="#e8183f"/><stop offset="0.78" stop-color="#b01230"/><stop offset="1" stop-color="#700b1e"/></linearGradient>
<rect x="406.7" y="370" width="7.6" height="60" fill="url(#gR51)"/>
<linearGradient id="gR52" gradientUnits="userSpaceOnUse" x1="0" y1="378.09" x2="0" y2="418.50"><stop offset="0" stop-color="#a80e28"/><stop offset="0.07" stop-color="#e2163e"/><stop offset="0.5" stop-color="#e8183f"/><stop offset="0.78" stop-color="#b01230"/><stop offset="1" stop-color="#700b1e"/></linearGradient>
<rect x="413.7" y="370" width="7.6" height="60" fill="url(#gR52)"/>
<linearGradient id="gR53" gradientUnits="userSpaceOnUse" x1="0" y1="378.08" x2="0" y2="418.41"><stop offset="0" stop-color="#a80e28"/><stop offset="0.07" stop-color="#e2163e"/><stop offset="0.5" stop-color="#e8183f"/><stop offset="0.78" stop-color="#b01230"/><stop offset="1" stop-color="#700b1e"/></linearGradient>
<rect x="420.7" y="370" width="7.6" height="60" fill="url(#gR53)"/>
<linearGradient id="gR54" gradientUnits="userSpaceOnUse" x1="0" y1="378.06" x2="0" y2="418.33"><stop offset="0" stop-color="#a80e28"/><stop offset="0.07" stop-color="#e2163e"/><stop offset="0.5" stop-color="#e8183f"/><stop offset="0.78" stop-color="#b01230"/><stop offset="1" stop-color="#700b1e"/></linearGradient>
<rect x="427.7" y="370" width="7.6" height="60" fill="url(#gR54)"/>
<linearGradient id="gR55" gradientUnits="userSpaceOnUse" x1="0" y1="378.05" x2="0" y2="418.24"><stop offset="0" stop-color="#a80e28"/><stop offset="0.07" stop-color="#e2163e"/><stop offset="0.5" stop-color="#e8183f"/><stop offset="0.78" stop-color="#b01230"/><stop offset="1" stop-color="#700b1e"/></linearGradient>
<rect x="434.7" y="370" width="7.6" height="60" fill="url(#gR55)"/>
<linearGradient id="gR56" gradientUnits="userSpaceOnUse" x1="0" y1="378.03" x2="0" y2="418.15"><stop offset="0" stop-color="#a80e28"/><stop offset="0.07" stop-color="#e2163e"/><stop offset="0.5" stop-color="#e8183f"/><stop offset="0.78" stop-color="#b01230"/><stop offset="1" stop-color="#700b1e"/></linearGradient>
<rect x="441.7" y="370" width="7.6" height="60" fill="url(#gR56)"/>
<linearGradient id="gR57" gradientUnits="userSpaceOnUse" x1="0" y1="378.01" x2="0" y2="418.06"><stop offset="0" stop-color="#a80e28"/><stop offset="0.07" stop-color="#e2163e"/><stop offset="0.5" stop-color="#e8183f"/><stop offset="0.78" stop-color="#b01230"/><stop offset="1" stop-color="#700b1e"/></linearGradient>
<rect x="448.7" y="370" width="7.6" height="60" fill="url(#gR57)"/>
<linearGradient id="gR58" gradientUnits="userSpaceOnUse" x1="0" y1="378.00" x2="0" y2="417.97"><stop offset="0" stop-color="#a80e28"/><stop offset="0.07" stop-color="#e2163e"/><stop offset="0.5" stop-color="#e8183f"/><stop offset="0.78" stop-color="#b01230"/><stop offset="1" stop-color="#700b1e"/></linearGradient>
<rect x="455.7" y="370" width="7.6" height="60" fill="url(#gR58)"/>
<linearGradient id="gR59" gradientUnits="userSpaceOnUse" x1="0" y1="377.98" x2="0" y2="417.88"><stop offset="0" stop-color="#a80e28"/><stop offset="0.07" stop-color="#e2163e"/><stop offset="0.5" stop-color="#e8183f"/><stop offset="0.78" stop-color="#b01230"/><stop offset="1" stop-color="#700b1e"/></linearGradient>
<rect x="462.7" y="370" width="7.6" height="60" fill="url(#gR59)"/>
<linearGradient id="gR60" gradientUnits="userSpaceOnUse" x1="0" y1="377.97" x2="0" y2="417.79"><stop offset="0" stop-color="#a80e28"/><stop offset="0.07" stop-color="#e2163e"/><stop offset="0.5" stop-color="#e8183f"/><stop offset="0.78" stop-color="#b01230"/><stop offset="1" stop-color="#700b1e"/></linearGradient>
<rect x="469.7" y="370" width="7.6" height="60" fill="url(#gR60)"/>
<linearGradient id="gR61" gradientUnits="userSpaceOnUse" x1="0" y1="377.95" x2="0" y2="417.70"><stop offset="0" stop-color="#a80e28"/><stop offset="0.07" stop-color="#e2163e"/><stop offset="0.5" stop-color="#e8183f"/><stop offset="0.78" stop-color="#b01230"/><stop offset="1" stop-color="#700b1e"/></linearGradient>
<rect x="476.7" y="370" width="7.6" height="60" fill="url(#gR61)"/>
<linearGradient id="gR62" gradientUnits="userSpaceOnUse" x1="0" y1="377.94" x2="0" y2="417.61"><stop offset="0" stop-color="#a80e28"/><stop offset="0.07" stop-color="#e2163e"/><stop offset="0.5" stop-color="#e8183f"/><stop offset="0.78" stop-color="#b01230"/><stop offset="1" stop-color="#700b1e"/></linearGradient>
<rect x="483.7" y="370" width="7.6" height="60" fill="url(#gR62)"/>
<linearGradient id="gR63" gradientUnits="userSpaceOnUse" x1="0" y1="377.92" x2="0" y2="417.52"><stop offset="0" stop-color="#a80e28"/><stop offset="0.07" stop-color="#e2163e"/><stop offset="0.5" stop-color="#e8183f"/><stop offset="0.78" stop-color="#b01230"/><stop offset="1" stop-color="#700b1e"/></linearGradient>
<rect x="490.7" y="370" width="7.6" height="60" fill="url(#gR63)"/>
<linearGradient id="gR64" gradientUnits="userSpaceOnUse" x1="0" y1="377.90" x2="0" y2="417.43"><stop offset="0" stop-color="#a80e28"/><stop offset="0.07" stop-color="#e2163e"/><stop offset="0.5" stop-color="#e8183f"/><stop offset="0.78" stop-color="#b01230"/><stop offset="1" stop-color="#700b1e"/></linearGradient>
<rect x="497.7" y="370" width="7.6" height="60" fill="url(#gR64)"/>
<linearGradient id="gR65" gradientUnits="userSpaceOnUse" x1="0" y1="377.89" x2="0" y2="417.35"><stop offset="0" stop-color="#a80e28"/><stop offset="0.07" stop-color="#e2163e"/><stop offset="0.5" stop-color="#e8183f"/><stop offset="0.78" stop-color="#b01230"/><stop offset="1" stop-color="#700b1e"/></linearGradient>
<rect x="504.7" y="370" width="7.6" height="60" fill="url(#gR65)"/>
<linearGradient id="gR66" gradientUnits="userSpaceOnUse" x1="0" y1="377.87" x2="0" y2="417.26"><stop offset="0" stop-color="#a80e28"/><stop offset="0.07" stop-color="#e2163e"/><stop offset="0.5" stop-color="#e8183f"/><stop offset="0.78" stop-color="#b01230"/><stop offset="1" stop-color="#700b1e"/></linearGradient>
<rect x="511.7" y="370" width="7.6" height="60" fill="url(#gR66)"/>
<linearGradient id="gR67" gradientUnits="userSpaceOnUse" x1="0" y1="377.86" x2="0" y2="417.17"><stop offset="0" stop-color="#a80e28"/><stop offset="0.07" stop-color="#e2163e"/><stop offset="0.5" stop-color="#e8183f"/><stop offset="0.78" stop-color="#b01230"/><stop offset="1" stop-color="#700b1e"/></linearGradient>
<rect x="518.7" y="370" width="7.6" height="60" fill="url(#gR67)"/>
<linearGradient id="gR68" gradientUnits="userSpaceOnUse" x1="0" y1="377.84" x2="0" y2="417.08"><stop offset="0" stop-color="#a80e28"/><stop offset="0.07" stop-color="#e2163e"/><stop offset="0.5" stop-color="#e8183f"/><stop offset="0.78" stop-color="#b01230"/><stop offset="1" stop-color="#700b1e"/></linearGradient>
<rect x="525.7" y="370" width="7.6" height="60" fill="url(#gR68)"/>
<linearGradient id="gR69" gradientUnits="userSpaceOnUse" x1="0" y1="377.83" x2="0" y2="416.99"><stop offset="0" stop-color="#a80e28"/><stop offset="0.07" stop-color="#e2163e"/><stop offset="0.5" stop-color="#e8183f"/><stop offset="0.78" stop-color="#b01230"/><stop offset="1" stop-color="#700b1e"/></linearGradient>
<rect x="532.7" y="370" width="7.6" height="60" fill="url(#gR69)"/>
<linearGradient id="gR70" gradientUnits="userSpaceOnUse" x1="0" y1="377.81" x2="0" y2="416.90"><stop offset="0" stop-color="#a80e28"/><stop offset="0.07" stop-color="#e2163e"/><stop offset="0.5" stop-color="#e8183f"/><stop offset="0.78" stop-color="#b01230"/><stop offset="1" stop-color="#700b1e"/></linearGradient>
<rect x="539.7" y="370" width="7.6" height="60" fill="url(#gR70)"/>
<linearGradient id="gR71" gradientUnits="userSpaceOnUse" x1="0" y1="377.79" x2="0" y2="416.81"><stop offset="0" stop-color="#a80e28"/><stop offset="0.07" stop-color="#e2163e"/><stop offset="0.5" stop-color="#e8183f"/><stop offset="0.78" stop-color="#b01230"/><stop offset="1" stop-color="#700b1e"/></linearGradient>
<rect x="546.7" y="370" width="7.6" height="60" fill="url(#gR71)"/>
<linearGradient id="gR72" gradientUnits="userSpaceOnUse" x1="0" y1="377.78" x2="0" y2="416.72"><stop offset="0" stop-color="#a80e28"/><stop offset="0.07" stop-color="#e2163e"/><stop offset="0.5" stop-color="#e8183f"/><stop offset="0.78" stop-color="#b01230"/><stop offset="1" stop-color="#700b1e"/></linearGradient>
<rect x="553.7" y="370" width="7.6" height="60" fill="url(#gR72)"/>
<linearGradient id="gR73" gradientUnits="userSpaceOnUse" x1="0" y1="377.76" x2="0" y2="416.63"><stop offset="0" stop-color="#a80e28"/><stop offset="0.07" stop-color="#e2163e"/><stop offset="0.5" stop-color="#e8183f"/><stop offset="0.78" stop-color="#b01230"/><stop offset="1" stop-color="#700b1e"/></linearGradient>
<rect x="560.7" y="370" width="7.6" height="60" fill="url(#gR73)"/>
<linearGradient id="gR74" gradientUnits="userSpaceOnUse" x1="0" y1="377.75" x2="0" y2="416.54"><stop offset="0" stop-color="#a80e28"/><stop offset="0.07" stop-color="#e2163e"/><stop offset="0.5" stop-color="#e8183f"/><stop offset="0.78" stop-color="#b01230"/><stop offset="1" stop-color="#700b1e"/></linearGradient>
<rect x="567.7" y="370" width="7.6" height="60" fill="url(#gR74)"/>
<linearGradient id="gR75" gradientUnits="userSpaceOnUse" x1="0" y1="377.73" x2="0" y2="416.45"><stop offset="0" stop-color="#a80e28"/><stop offset="0.07" stop-color="#e2163e"/><stop offset="0.5" stop-color="#e8183f"/><stop offset="0.78" stop-color="#b01230"/><stop offset="1" stop-color="#700b1e"/></linearGradient>
<rect x="574.7" y="370" width="7.6" height="60" fill="url(#gR75)"/>
<linearGradient id="gR76" gradientUnits="userSpaceOnUse" x1="0" y1="377.72" x2="0" y2="416.37"><stop offset="0" stop-color="#a80e28"/><stop offset="0.07" stop-color="#e2163e"/><stop offset="0.5" stop-color="#e8183f"/><stop offset="0.78" stop-color="#b01230"/><stop offset="1" stop-color="#700b1e"/></linearGradient>
<rect x="581.7" y="370" width="7.6" height="60" fill="url(#gR76)"/>
<linearGradient id="gR77" gradientUnits="userSpaceOnUse" x1="0" y1="377.70" x2="0" y2="416.28"><stop offset="0" stop-color="#a80e28"/><stop offset="0.07" stop-color="#e2163e"/><stop offset="0.5" stop-color="#e8183f"/><stop offset="0.78" stop-color="#b01230"/><stop offset="1" stop-color="#700b1e"/></linearGradient>
<rect x="588.7" y="370" width="7.6" height="60" fill="url(#gR77)"/>
<linearGradient id="gR78" gradientUnits="userSpaceOnUse" x1="0" y1="377.68" x2="0" y2="416.19"><stop offset="0" stop-color="#a80e28"/><stop offset="0.07" stop-color="#e2163e"/><stop offset="0.5" stop-color="#e8183f"/><stop offset="0.78" stop-color="#b01230"/><stop offset="1" stop-color="#700b1e"/></linearGradient>
<rect x="595.7" y="370" width="7.6" height="60" fill="url(#gR78)"/>
<linearGradient id="gR79" gradientUnits="userSpaceOnUse" x1="0" y1="377.67" x2="0" y2="416.10"><stop offset="0" stop-color="#a80e28"/><stop offset="0.07" stop-color="#e2163e"/><stop offset="0.5" stop-color="#e8183f"/><stop offset="0.78" stop-color="#b01230"/><stop offset="1" stop-color="#700b1e"/></linearGradient>
<rect x="602.7" y="370" width="7.6" height="60" fill="url(#gR79)"/>
<linearGradient id="gR80" gradientUnits="userSpaceOnUse" x1="0" y1="377.65" x2="0" y2="416.01"><stop offset="0" stop-color="#a80e28"/><stop offset="0.07" stop-color="#e2163e"/><stop offset="0.5" stop-color="#e8183f"/><stop offset="0.78" stop-color="#b01230"/><stop offset="1" stop-color="#700b1e"/></linearGradient>
<rect x="609.7" y="370" width="7.6" height="60" fill="url(#gR80)"/>
<linearGradient id="gR81" gradientUnits="userSpaceOnUse" x1="0" y1="377.64" x2="0" y2="415.92"><stop offset="0" stop-color="#a80e28"/><stop offset="0.07" stop-color="#e2163e"/><stop offset="0.5" stop-color="#e8183f"/><stop offset="0.78" stop-color="#b01230"/><stop offset="1" stop-color="#700b1e"/></linearGradient>
<rect x="616.7" y="370" width="7.6" height="60" fill="url(#gR81)"/>
<linearGradient id="gR82" gradientUnits="userSpaceOnUse" x1="0" y1="377.62" x2="0" y2="415.83"><stop offset="0" stop-color="#a80e28"/><stop offset="0.07" stop-color="#e2163e"/><stop offset="0.5" stop-color="#e8183f"/><stop offset="0.78" stop-color="#b01230"/><stop offset="1" stop-color="#700b1e"/></linearGradient>
<rect x="623.7" y="370" width="7.6" height="60" fill="url(#gR82)"/>
<linearGradient id="gR83" gradientUnits="userSpaceOnUse" x1="0" y1="377.61" x2="0" y2="415.74"><stop offset="0" stop-color="#a80e28"/><stop offset="0.07" stop-color="#e2163e"/><stop offset="0.5" stop-color="#e8183f"/><stop offset="0.78" stop-color="#b01230"/><stop offset="1" stop-color="#700b1e"/></linearGradient>
<rect x="630.7" y="370" width="7.6" height="60" fill="url(#gR83)"/>
<linearGradient id="gR84" gradientUnits="userSpaceOnUse" x1="0" y1="377.59" x2="0" y2="415.65"><stop offset="0" stop-color="#a80e28"/><stop offset="0.07" stop-color="#e2163e"/><stop offset="0.5" stop-color="#e8183f"/><stop offset="0.78" stop-color="#b01230"/><stop offset="1" stop-color="#700b1e"/></linearGradient>
<rect x="637.7" y="370" width="7.6" height="60" fill="url(#gR84)"/>
<linearGradient id="gR85" gradientUnits="userSpaceOnUse" x1="0" y1="377.58" x2="0" y2="415.56"><stop offset="0" stop-color="#a80e28"/><stop offset="0.07" stop-color="#e2163e"/><stop offset="0.5" stop-color="#e8183f"/><stop offset="0.78" stop-color="#b01230"/><stop offset="1" stop-color="#700b1e"/></linearGradient>
<rect x="644.7" y="370" width="7.6" height="60" fill="url(#gR85)"/>
<linearGradient id="gR86" gradientUnits="userSpaceOnUse" x1="0" y1="377.56" x2="0" y2="415.47"><stop offset="0" stop-color="#a80e28"/><stop offset="0.07" stop-color="#e2163e"/><stop offset="0.5" stop-color="#e8183f"/><stop offset="0.78" stop-color="#b01230"/><stop offset="1" stop-color="#700b1e"/></linearGradient>
<rect x="651.7" y="370" width="7.6" height="60" fill="url(#gR86)"/>
<linearGradient id="gR87" gradientUnits="userSpaceOnUse" x1="0" y1="377.54" x2="0" y2="415.38"><stop offset="0" stop-color="#a80e28"/><stop offset="0.07" stop-color="#e2163e"/><stop offset="0.5" stop-color="#e8183f"/><stop offset="0.78" stop-color="#b01230"/><stop offset="1" stop-color="#700b1e"/></linearGradient>
<rect x="658.7" y="370" width="7.6" height="60" fill="url(#gR87)"/>
<linearGradient id="gR88" gradientUnits="userSpaceOnUse" x1="0" y1="377.53" x2="0" y2="415.30"><stop offset="0" stop-color="#a80e28"/><stop offset="0.07" stop-color="#e2163e"/><stop offset="0.5" stop-color="#e8183f"/><stop offset="0.78" stop-color="#b01230"/><stop offset="1" stop-color="#700b1e"/></linearGradient>
<rect x="665.7" y="370" width="7.6" height="60" fill="url(#gR88)"/>
<linearGradient id="gR89" gradientUnits="userSpaceOnUse" x1="0" y1="377.51" x2="0" y2="415.21"><stop offset="0" stop-color="#a80e28"/><stop offset="0.07" stop-color="#e2163e"/><stop offset="0.5" stop-color="#e8183f"/><stop offset="0.78" stop-color="#b01230"/><stop offset="1" stop-color="#700b1e"/></linearGradient>
<rect x="672.7" y="370" width="7.6" height="60" fill="url(#gR89)"/>
<linearGradient id="gR90" gradientUnits="userSpaceOnUse" x1="0" y1="377.50" x2="0" y2="415.12"><stop offset="0" stop-color="#a80e28"/><stop offset="0.07" stop-color="#e2163e"/><stop offset="0.5" stop-color="#e8183f"/><stop offset="0.78" stop-color="#b01230"/><stop offset="1" stop-color="#700b1e"/></linearGradient>
<rect x="679.7" y="370" width="7.6" height="60" fill="url(#gR90)"/>
<linearGradient id="gR91" gradientUnits="userSpaceOnUse" x1="0" y1="377.48" x2="0" y2="415.03"><stop offset="0" stop-color="#a80e28"/><stop offset="0.07" stop-color="#e2163e"/><stop offset="0.5" stop-color="#e8183f"/><stop offset="0.78" stop-color="#b01230"/><stop offset="1" stop-color="#700b1e"/></linearGradient>
<rect x="686.7" y="370" width="7.6" height="60" fill="url(#gR91)"/>
<linearGradient id="gR92" gradientUnits="userSpaceOnUse" x1="0" y1="377.47" x2="0" y2="414.94"><stop offset="0" stop-color="#a80e28"/><stop offset="0.07" stop-color="#e2163e"/><stop offset="0.5" stop-color="#e8183f"/><stop offset="0.78" stop-color="#b01230"/><stop offset="1" stop-color="#700b1e"/></linearGradient>
<rect x="693.7" y="370" width="7.6" height="60" fill="url(#gR92)"/>
<linearGradient id="gR93" gradientUnits="userSpaceOnUse" x1="0" y1="377.45" x2="0" y2="414.85"><stop offset="0" stop-color="#a80e28"/><stop offset="0.07" stop-color="#e2163e"/><stop offset="0.5" stop-color="#e8183f"/><stop offset="0.78" stop-color="#b01230"/><stop offset="1" stop-color="#700b1e"/></linearGradient>
<rect x="700.7" y="370" width="7.6" height="60" fill="url(#gR93)"/>
<linearGradient id="gR94" gradientUnits="userSpaceOnUse" x1="0" y1="377.43" x2="0" y2="414.76"><stop offset="0" stop-color="#a80e28"/><stop offset="0.07" stop-color="#e2163e"/><stop offset="0.5" stop-color="#e8183f"/><stop offset="0.78" stop-color="#b01230"/><stop offset="1" stop-color="#700b1e"/></linearGradient>
<rect x="707.7" y="370" width="7.6" height="60" fill="url(#gR94)"/>
<linearGradient id="gR95" gradientUnits="userSpaceOnUse" x1="0" y1="377.42" x2="0" y2="414.67"><stop offset="0" stop-color="#a80e28"/><stop offset="0.07" stop-color="#e2163e"/><stop offset="0.5" stop-color="#e8183f"/><stop offset="0.78" stop-color="#b01230"/><stop offset="1" stop-color="#700b1e"/></linearGradient>
<rect x="714.7" y="370" width="7.6" height="60" fill="url(#gR95)"/>
<linearGradient id="gR96" gradientUnits="userSpaceOnUse" x1="0" y1="377.40" x2="0" y2="414.58"><stop offset="0" stop-color="#a80e28"/><stop offset="0.07" stop-color="#e2163e"/><stop offset="0.5" stop-color="#e8183f"/><stop offset="0.78" stop-color="#b01230"/><stop offset="1" stop-color="#700b1e"/></linearGradient>
<rect x="721.7" y="370" width="7.6" height="60" fill="url(#gR96)"/>
<linearGradient id="gR97" gradientUnits="userSpaceOnUse" x1="0" y1="377.39" x2="0" y2="414.49"><stop offset="0" stop-color="#a80e28"/><stop offset="0.07" stop-color="#e2163e"/><stop offset="0.5" stop-color="#e8183f"/><stop offset="0.78" stop-color="#b01230"/><stop offset="1" stop-color="#700b1e"/></linearGradient>
<rect x="728.7" y="370" width="7.6" height="60" fill="url(#gR97)"/>
<linearGradient id="gR98" gradientUnits="userSpaceOnUse" x1="0" y1="377.37" x2="0" y2="414.40"><stop offset="0" stop-color="#a80e28"/><stop offset="0.07" stop-color="#e2163e"/><stop offset="0.5" stop-color="#e8183f"/><stop offset="0.78" stop-color="#b01230"/><stop offset="1" stop-color="#700b1e"/></linearGradient>
<rect x="735.7" y="370" width="7.6" height="60" fill="url(#gR98)"/>
<linearGradient id="gR99" gradientUnits="userSpaceOnUse" x1="0" y1="377.36" x2="0" y2="414.32"><stop offset="0" stop-color="#a80e28"/><stop offset="0.07" stop-color="#e2163e"/><stop offset="0.5" stop-color="#e8183f"/><stop offset="0.78" stop-color="#b01230"/><stop offset="1" stop-color="#700b1e"/></linearGradient>
<rect x="742.7" y="370" width="7.6" height="60" fill="url(#gR99)"/>
<linearGradient id="gR100" gradientUnits="userSpaceOnUse" x1="0" y1="377.34" x2="0" y2="414.23"><stop offset="0" stop-color="#a80e28"/><stop offset="0.07" stop-color="#e2163e"/><stop offset="0.5" stop-color="#e8183f"/><stop offset="0.78" stop-color="#b01230"/><stop offset="1" stop-color="#700b1e"/></linearGradient>
<rect x="749.7" y="370" width="7.6" height="60" fill="url(#gR100)"/>
<linearGradient id="gR101" gradientUnits="userSpaceOnUse" x1="0" y1="377.32" x2="0" y2="414.14"><stop offset="0" stop-color="#a80e28"/><stop offset="0.07" stop-color="#e2163e"/><stop offset="0.5" stop-color="#e8183f"/><stop offset="0.78" stop-color="#b01230"/><stop offset="1" stop-color="#700b1e"/></linearGradient>
<rect x="756.7" y="370" width="7.6" height="60" fill="url(#gR101)"/>
<linearGradient id="gR102" gradientUnits="userSpaceOnUse" x1="0" y1="377.31" x2="0" y2="414.05"><stop offset="0" stop-color="#a80e28"/><stop offset="0.07" stop-color="#e2163e"/><stop offset="0.5" stop-color="#e8183f"/><stop offset="0.78" stop-color="#b01230"/><stop offset="1" stop-color="#700b1e"/></linearGradient>
<rect x="763.7" y="370" width="7.6" height="60" fill="url(#gR102)"/>
<linearGradient id="gR103" gradientUnits="userSpaceOnUse" x1="0" y1="377.29" x2="0" y2="413.96"><stop offset="0" stop-color="#a80e28"/><stop offset="0.07" stop-color="#e2163e"/><stop offset="0.5" stop-color="#e8183f"/><stop offset="0.78" stop-color="#b01230"/><stop offset="1" stop-color="#700b1e"/></linearGradient>
<rect x="770.7" y="370" width="7.6" height="60" fill="url(#gR103)"/>
<linearGradient id="gR104" gradientUnits="userSpaceOnUse" x1="0" y1="377.28" x2="0" y2="413.87"><stop offset="0" stop-color="#a80e28"/><stop offset="0.07" stop-color="#e2163e"/><stop offset="0.5" stop-color="#e8183f"/><stop offset="0.78" stop-color="#b01230"/><stop offset="1" stop-color="#700b1e"/></linearGradient>
<rect x="777.7" y="370" width="7.6" height="60" fill="url(#gR104)"/>
<linearGradient id="gR105" gradientUnits="userSpaceOnUse" x1="0" y1="377.26" x2="0" y2="413.78"><stop offset="0" stop-color="#a80e28"/><stop offset="0.07" stop-color="#e2163e"/><stop offset="0.5" stop-color="#e8183f"/><stop offset="0.78" stop-color="#b01230"/><stop offset="1" stop-color="#700b1e"/></linearGradient>
<rect x="784.7" y="370" width="7.6" height="60" fill="url(#gR105)"/>
<linearGradient id="gR106" gradientUnits="userSpaceOnUse" x1="0" y1="377.25" x2="0" y2="413.69"><stop offset="0" stop-color="#a80e28"/><stop offset="0.07" stop-color="#e2163e"/><stop offset="0.5" stop-color="#e8183f"/><stop offset="0.78" stop-color="#b01230"/><stop offset="1" stop-color="#700b1e"/></linearGradient>
<rect x="791.7" y="370" width="7.6" height="60" fill="url(#gR106)"/>
<linearGradient id="gR107" gradientUnits="userSpaceOnUse" x1="0" y1="377.23" x2="0" y2="413.60"><stop offset="0" stop-color="#a80e28"/><stop offset="0.07" stop-color="#e2163e"/><stop offset="0.5" stop-color="#e8183f"/><stop offset="0.78" stop-color="#b01230"/><stop offset="1" stop-color="#700b1e"/></linearGradient>
<rect x="798.7" y="370" width="7.6" height="60" fill="url(#gR107)"/>
<linearGradient id="gR108" gradientUnits="userSpaceOnUse" x1="0" y1="377.21" x2="0" y2="413.51"><stop offset="0" stop-color="#a80e28"/><stop offset="0.07" stop-color="#e2163e"/><stop offset="0.5" stop-color="#e8183f"/><stop offset="0.78" stop-color="#b01230"/><stop offset="1" stop-color="#700b1e"/></linearGradient>
<rect x="805.7" y="370" width="7.6" height="60" fill="url(#gR108)"/>
<linearGradient id="gR109" gradientUnits="userSpaceOnUse" x1="0" y1="377.20" x2="0" y2="413.42"><stop offset="0" stop-color="#a80e28"/><stop offset="0.07" stop-color="#e2163e"/><stop offset="0.5" stop-color="#e8183f"/><stop offset="0.78" stop-color="#b01230"/><stop offset="1" stop-color="#700b1e"/></linearGradient>
<rect x="812.7" y="370" width="7.6" height="60" fill="url(#gR109)"/>
</g>
<path d="M57,378.9 L815,377.2 L815.2,380.8 L814.6,386.4 L812.4,392 L808.4,397.6 L802.8,403.3 L796,407.8 L788.2,411.2 L776.9,413.4 L765.6,414.2 L750,414.3 L740,414.4 L78,422.8 L78,396.5 Q77,395 74,394.8 L60,394.6 Q57.5,394 57,391 Z" fill="url(#gStern)"/>
<path d="M57,378.9 L815,377.2 L815.2,380.8 L814.6,386.4 L812.4,392 L808.4,397.6 L802.8,403.3 L796,407.8 L788.2,411.2 L776.9,413.4 L765.6,414.2 L750,414.3 L740,414.4 L78,422.8 L78,396.5 Q77,395 74,394.8 L60,394.6 Q57.5,394 57,391 Z" fill="url(#gBowSh)"/>
<rect x="52.9" y="395.4" width="22.8" height="25" fill="#d6143a"/>
<path d="M85,392 Q88,399 86,404 Q84,399 85,392 Z M86,404 Q89,410 86.5,416 Q84,410 86,404 Z" fill="#c9a34a"/>
<line x1="88" y1="404.5" x2="170" y2="405.2" stroke="#9a8f98" stroke-width="0.7"/>
<rect x="150" y="401" width="6" height="6" fill="#a01028"/>
<line x1="57" y1="380.3" x2="815.5" y2="379.9" stroke="#f4a8b8" stroke-width="0.6" opacity="0.85"/>
<path d="M189.2,343.4 L232.5,343.4 C230.0,351.43 225.5,358 220.5,358 L201.2,358 C196.2,358 191.7,351.43 189.2,343.4 Z" fill="#1a1b1d"/>
<line x1="192.2" y1="344.0" x2="205.2" y2="344.0" stroke="#d8d8d8" stroke-width="0.7" stroke-dasharray="1.5 0.7"/>
<path d="M387.4,343.6 L427.2,343.6 C424.7,352.84 420.2,360.4 415.2,360.4 L399.4,360.4 C394.4,360.4 389.9,352.84 387.4,343.6 Z" fill="#1a1b1d"/>
<line x1="390.4" y1="344.20000000000005" x2="403.4" y2="344.20000000000005" stroke="#d8d8d8" stroke-width="0.7" stroke-dasharray="1.5 0.7"/>
<path d="M592.7,340.4 L634.4,340.4 C631.9,348.43 627.4,355 622.4,355 L604.7,355 C599.7,355 595.2,348.43 592.7,340.4 Z" fill="#1a1b1d"/>
<line x1="595.7" y1="341.0" x2="608.7" y2="341.0" stroke="#d8d8d8" stroke-width="0.7" stroke-dasharray="1.5 0.7"/>
<path d="M24.6,337.2 L60,337.59999999999997 L100,337.40000000000003 L150,338.0 L240,339.20000000000005 L380,339.3 L480,338.6 L540,337.90000000000003 L600,336.8 L650,335.40000000000003 L702,334.59999999999997 L703.5,331.2 L740,328.8 L768,325.8 L780.2,324 L780,325 L768,326.6 L740,329.6 L703.5,332 L702,335.4 L650,337.8 L600,339.2 L540,340.3 L480,341 L380,341.7 L240,341.6 L150,340.4 L100,339.8 L60,339.2 L24.6,338.6 Z" fill="#c4c6c8"/>
<path d="M24.6,338.6 L60,339.2 L100,339.8 L150,340.4 L240,341.6 L380,341.7 L480,341 L540,340.3 L600,339.2 L650,337.8 L702,335.4 L703.5,332 L740,329.6 L768,326.6 L780,325" fill="none" stroke="#6a6c6f" stroke-width="0.5"/>
<circle cx="100" cy="370.58" r="0.8" fill="#c8c8c4"/>
<circle cx="112" cy="370.53200000000004" r="0.8" fill="#c8c8c4"/>
<circle cx="124" cy="370.48400000000004" r="0.8" fill="#c8c8c4"/>
<circle cx="150" cy="370.38" r="0.8" fill="#c8c8c4"/>
<circle cx="166" cy="370.31600000000003" r="0.8" fill="#c8c8c4"/>
<circle cx="181" cy="370.25600000000003" r="0.8" fill="#c8c8c4"/>
<circle cx="200" cy="370.18" r="0.8" fill="#c8c8c4"/>
<circle cx="226" cy="370.076" r="0.8" fill="#c8c8c4"/>
<circle cx="246" cy="369.99600000000004" r="0.8" fill="#c8c8c4"/>
<circle cx="265" cy="369.92" r="0.8" fill="#c8c8c4"/>
<circle cx="285" cy="369.84000000000003" r="0.8" fill="#c8c8c4"/>
<circle cx="310" cy="369.74" r="0.8" fill="#c8c8c4"/>
<circle cx="338" cy="369.628" r="0.8" fill="#c8c8c4"/>
<circle cx="356" cy="369.556" r="0.8" fill="#c8c8c4"/>
<circle cx="380" cy="369.46000000000004" r="0.8" fill="#c8c8c4"/>
<circle cx="396" cy="369.396" r="0.8" fill="#c8c8c4"/>
<circle cx="432" cy="369.252" r="0.8" fill="#c8c8c4"/>
<circle cx="450" cy="369.18" r="0.8" fill="#c8c8c4"/>
<circle cx="470" cy="369.1" r="0.8" fill="#c8c8c4"/>
<circle cx="493" cy="369.00800000000004" r="0.8" fill="#c8c8c4"/>
<circle cx="520" cy="368.90000000000003" r="0.8" fill="#c8c8c4"/>
<circle cx="548" cy="368.788" r="0.8" fill="#c8c8c4"/>
<circle cx="566" cy="368.716" r="0.8" fill="#c8c8c4"/>
<circle cx="590" cy="368.62" r="0.8" fill="#c8c8c4"/>
<circle cx="612" cy="368.53200000000004" r="0.8" fill="#c8c8c4"/>
<circle cx="640" cy="368.42" r="0.8" fill="#c8c8c4"/>
<circle cx="664" cy="368.324" r="0.8" fill="#c8c8c4"/>
<circle cx="690" cy="368.22" r="0.8" fill="#c8c8c4"/>
<circle cx="712" cy="368.132" r="0.8" fill="#c8c8c4"/>
<circle cx="741" cy="368.016" r="0.8" fill="#c8c8c4"/>
<circle cx="770" cy="367.90000000000003" r="0.8" fill="#c8c8c4"/>
<rect x="160" y="352.5" width="3" height="2.4" fill="none" stroke="#1a1a1c" stroke-width="0.5"/>
<rect x="175" y="352.5" width="3" height="2.4" fill="none" stroke="#1a1a1c" stroke-width="0.5"/>
<rect x="188" y="352.5" width="3" height="2.4" fill="none" stroke="#1a1a1c" stroke-width="0.5"/>
<rect x="240" y="352.5" width="3" height="2.4" fill="none" stroke="#1a1a1c" stroke-width="0.5"/>
<rect x="252" y="352.5" width="3" height="2.4" fill="none" stroke="#1a1a1c" stroke-width="0.5"/>
<rect x="297" y="352.5" width="3" height="2.4" fill="none" stroke="#1a1a1c" stroke-width="0.5"/>
<rect x="326" y="352.5" width="3" height="2.4" fill="none" stroke="#1a1a1c" stroke-width="0.5"/>
<rect x="340" y="352.5" width="3" height="2.4" fill="none" stroke="#1a1a1c" stroke-width="0.5"/>
<rect x="390" y="352.5" width="3" height="2.4" fill="none" stroke="#1a1a1c" stroke-width="0.5"/>
<rect x="425" y="352.5" width="3" height="2.4" fill="none" stroke="#1a1a1c" stroke-width="0.5"/>
<rect x="468" y="352.5" width="3" height="2.4" fill="none" stroke="#1a1a1c" stroke-width="0.5"/>
<rect x="482" y="352.5" width="3" height="2.4" fill="none" stroke="#1a1a1c" stroke-width="0.5"/>
<rect x="534" y="352.5" width="3" height="2.4" fill="none" stroke="#1a1a1c" stroke-width="0.5"/>
<rect x="552" y="352.5" width="3" height="2.4" fill="none" stroke="#1a1a1c" stroke-width="0.5"/>
<rect x="575" y="352.5" width="3" height="2.4" fill="none" stroke="#1a1a1c" stroke-width="0.5"/>
<rect x="640" y="352.5" width="3" height="2.4" fill="none" stroke="#1a1a1c" stroke-width="0.5"/>
<rect x="655" y="352.5" width="3" height="2.4" fill="none" stroke="#1a1a1c" stroke-width="0.5"/>
<rect x="680" y="352.5" width="3" height="2.4" fill="none" stroke="#1a1a1c" stroke-width="0.5"/>
<rect x="700" y="352.5" width="3" height="2.4" fill="none" stroke="#1a1a1c" stroke-width="0.5"/>
<line x1="121" y1="341" x2="121" y2="356" stroke="#18181a" stroke-width="0.6"/>
<line x1="137" y1="341" x2="137" y2="356" stroke="#18181a" stroke-width="0.6"/>
<line x1="151" y1="341" x2="151" y2="356" stroke="#18181a" stroke-width="0.6"/>
<line x1="206" y1="341" x2="206" y2="356" stroke="#18181a" stroke-width="0.6"/>
<line x1="248" y1="341" x2="248" y2="356" stroke="#18181a" stroke-width="0.6"/>
<line x1="309" y1="341" x2="309" y2="356" stroke="#18181a" stroke-width="0.6"/>
<line x1="355" y1="341" x2="355" y2="356" stroke="#18181a" stroke-width="0.6"/>
<line x1="440" y1="341" x2="440" y2="356" stroke="#18181a" stroke-width="0.6"/>
<line x1="497" y1="341" x2="497" y2="356" stroke="#18181a" stroke-width="0.6"/>
<line x1="532" y1="341" x2="532" y2="356" stroke="#18181a" stroke-width="0.6"/>
<line x1="576" y1="341" x2="576" y2="356" stroke="#18181a" stroke-width="0.6"/>
<line x1="608" y1="341" x2="608" y2="356" stroke="#18181a" stroke-width="0.6"/>
<line x1="650" y1="341" x2="650" y2="356" stroke="#18181a" stroke-width="0.6"/>
<path d="M716,326 L716.2,349" stroke="#0d0d0f" fill="none" stroke-linecap="round" stroke-width="3"/>
<path d="M707,345 Q709,351.5 716.2,351.5 Q723.5,351.5 725,345.5" stroke="#0d0d0f" fill="none" stroke-linecap="round" stroke-width="2"/>
<path d="M709.5,346.5 L722.5,346.5" stroke="#0d0d0f" fill="none" stroke-linecap="round" stroke-width="1.4"/>
<path d="M736,338 L739,349 M744,334 L746,350 M739,349 Q745,354 752,347 M750,338 Q751,346 756,349" stroke="#0d0d0f" fill="none" stroke-linecap="round" stroke-width="1.8"/>
<path d="M757,340 Q760,349 766,350 M766,350 Q771,349 771,344 M763,336 L765,350" stroke="#0d0d0f" fill="none" stroke-linecap="round" stroke-width="1.8"/>
<circle cx="768.5" cy="350.5" r="1" fill="#9a9a98"/>
<path d="M709,325.5 L743,323.2" stroke="#2a2a2c" stroke-width="0.6" fill="none"/>
<line x1="709" y1="325.5" x2="709" y2="331.0" stroke="#2a2a2c" stroke-width="0.6"/>
<line x1="714" y1="325.17" x2="714" y2="330.6" stroke="#2a2a2c" stroke-width="0.6"/>
<line x1="719" y1="324.84" x2="719" y2="330.2" stroke="#2a2a2c" stroke-width="0.6"/>
<line x1="724" y1="324.51" x2="724" y2="329.8" stroke="#2a2a2c" stroke-width="0.6"/>
<line x1="729" y1="324.18" x2="729" y2="329.4" stroke="#2a2a2c" stroke-width="0.6"/>
<line x1="734" y1="323.85" x2="734" y2="329.0" stroke="#2a2a2c" stroke-width="0.6"/>
<line x1="739" y1="323.52" x2="739" y2="328.6" stroke="#2a2a2c" stroke-width="0.6"/>
<line x1="743" y1="323.19" x2="743" y2="328.2" stroke="#2a2a2c" stroke-width="0.6"/>
<path d="M731,327 L743.5,309.5 M734,327 L745.5,309.5 M737.5,327 L746.5,312 M743.5,309.5 L746.5,309.5" stroke="#3a3a3c" stroke-width="0.9" fill="none"/>
<rect x="743.2" y="312" width="2.4" height="17" fill="#2a2a2c"/>
<rect x="750.6" y="311" width="10.5" height="17.5" fill="#f4f5f6" stroke="#3a3a3c" stroke-width="0.4"/>
<line x1="752.5" y1="306.5" x2="752.5" y2="328" stroke="#3a3a3c" stroke-width="0.6"/>
<line x1="755.5" y1="306.5" x2="755.5" y2="328" stroke="#3a3a3c" stroke-width="0.6"/>
<line x1="758.5" y1="306.5" x2="758.5" y2="328" stroke="#3a3a3c" stroke-width="0.6"/>
<line x1="750.6" y1="315" x2="761" y2="315" stroke="#3a3a3c" stroke-width="0.5"/>
<line x1="750.6" y1="320" x2="761" y2="320" stroke="#3a3a3c" stroke-width="0.5"/>
<rect x="755" y="306.3" width="5" height="2" fill="#3a3a3c"/>
<rect x="758.5" y="317" width="3" height="4.5" fill="#1c1c1e"/>
<path d="M761,324 L768,321.6 L768.5,326 L761,328.5 Z" fill="#fafafa"/>
<rect x="779.4" y="333" width="10.8" height="1.3" fill="#1c1c1e"/>
<circle cx="712.7" cy="334.6" r="0.7" fill="#b8b8b4"/>
<circle cx="724" cy="334.6" r="0.7" fill="#b8b8b4"/>
<circle cx="735.5" cy="334.6" r="0.7" fill="#b8b8b4"/>
<circle cx="740.7" cy="334.6" r="0.7" fill="#b8b8b4"/>
<circle cx="758.2" cy="334.6" r="0.7" fill="#b8b8b4"/>
<g id="deck">
<rect x="26" y="331.2" width="19.5" height="2.8" fill="#3a3a3c"/>
<path d="M45,335.6 L45,330.5 L52.5,326.3 L53,335.6 Z" fill="#d4d6d8" stroke="#3a3a3c" stroke-width="0.4"/>
<rect x="56.2" y="328.3" width="8.6" height="7.3" fill="#f1f2f3" stroke="#3a3a3c" stroke-width="0.4"/>
<rect x="66" y="318" width="4.7" height="12.5" fill="#dfe0e2" stroke="#3a3a3c" stroke-width="0.4"/>
<rect x="192" y="318" width="10.6" height="8.2" fill="#f4f5f6" stroke="#2e2e30" stroke-width="0.6"/>
<line x1="192" y1="321.69" x2="202.6" y2="321.69" stroke="#2e2e30" stroke-width="0.4"/>
<line x1="197.3" y1="318" x2="197.3" y2="321.69" stroke="#2e2e30" stroke-width="0.4"/>
<rect x="195.71" y="322.1" width="3.1799999999999997" height="3.28" fill="#2a2a2c"/>
<rect x="221.3" y="319" width="8.4" height="7.2" fill="#f4f5f6" stroke="#2e2e30" stroke-width="0.6"/>
<line x1="221.3" y1="322.24" x2="229.70000000000002" y2="322.24" stroke="#2e2e30" stroke-width="0.4"/>
<line x1="225.5" y1="319" x2="225.5" y2="322.24" stroke="#2e2e30" stroke-width="0.4"/>
<rect x="224.24" y="322.6" width="2.52" height="2.8800000000000003" fill="#2a2a2c"/>
<line x1="206.2" y1="317.5" x2="206.2" y2="327" stroke="#3a3a3c" stroke-width="1.4"/>
<line x1="210.5" y1="317.5" x2="210.5" y2="327" stroke="#3a3a3c" stroke-width="1.4"/>
<line x1="214.8" y1="317.5" x2="214.8" y2="327" stroke="#3a3a3c" stroke-width="1.4"/>
<rect x="190.3" y="325.4" width="41.7" height="6.8" fill="#b9bbbe" stroke="#2e2e30" stroke-width="0.5"/>
<rect x="190.8" y="327.4" width="40.7" height="2.4" fill="#f0f1f2"/>
<rect x="191" y="332.2" width="40.3" height="11.2" fill="#d9dbdd"/>
<path d="M192,343 L196.4,332.6 L200.8,343 L205.1,332.6 L209.5,343" stroke="#242426" stroke-width="1" fill="none"/>
<line x1="192.0" y1="332.6" x2="192.0" y2="343" stroke="#2a2a2c" stroke-width="0.5"/>
<line x1="200.75" y1="332.6" x2="200.75" y2="343" stroke="#2a2a2c" stroke-width="0.5"/>
<line x1="209.5" y1="332.6" x2="209.5" y2="343" stroke="#2a2a2c" stroke-width="0.5"/>
<path d="M219,343 L225.0,332.6 L231.0,343" stroke="#242426" stroke-width="1" fill="none"/>
<line x1="219.0" y1="332.6" x2="219.0" y2="343" stroke="#2a2a2c" stroke-width="0.5"/>
<line x1="231.0" y1="332.6" x2="231.0" y2="343" stroke="#2a2a2c" stroke-width="0.5"/>
<rect x="209.5" y="335.3" width="6.2" height="8.2" fill="#f2f3f4" stroke="#2e2e30" stroke-width="0.4"/>
<rect x="216" y="338" width="4" height="5.5" fill="#2a2a2c"/>
<rect x="390.9" y="319.2" width="8.7" height="7.1" fill="#f4f5f6" stroke="#2e2e30" stroke-width="0.6"/>
<line x1="390.9" y1="322.395" x2="399.59999999999997" y2="322.395" stroke="#2e2e30" stroke-width="0.4"/>
<line x1="395.25" y1="319.2" x2="395.25" y2="322.395" stroke="#2e2e30" stroke-width="0.4"/>
<rect x="393.945" y="322.75" width="2.61" height="2.84" fill="#2a2a2c"/>
<rect x="418.3" y="319.2" width="8.2" height="7.1" fill="#f4f5f6" stroke="#2e2e30" stroke-width="0.6"/>
<line x1="418.3" y1="322.395" x2="426.5" y2="322.395" stroke="#2e2e30" stroke-width="0.4"/>
<line x1="422.40000000000003" y1="319.2" x2="422.40000000000003" y2="322.395" stroke="#2e2e30" stroke-width="0.4"/>
<rect x="421.17" y="322.75" width="2.4599999999999995" height="2.84" fill="#2a2a2c"/>
<path d="M407,326 Q407.5,318.5 412.3,317.2 L412.6,326" fill="none" stroke="#4a4a4c" stroke-width="0.8"/>
<rect x="383.2" y="325.2" width="46.6" height="7.8" fill="#f3f4f5"/>
<line x1="383.2" y1="325.2" x2="429.8" y2="325.2" stroke="#2e2e30" stroke-width="0.6"/>
<line x1="383.2" y1="328.3" x2="429.8" y2="328.3" stroke="#4a4a4c" stroke-width="0.4"/>
<line x1="383.4" y1="325.2" x2="383.4" y2="332" stroke="#3a3a3c" stroke-width="0.5"/>
<line x1="388.5" y1="325.2" x2="388.5" y2="332" stroke="#3a3a3c" stroke-width="0.5"/>
<line x1="393.5" y1="325.2" x2="393.5" y2="332" stroke="#3a3a3c" stroke-width="0.5"/>
<line x1="398.5" y1="325.2" x2="398.5" y2="332" stroke="#3a3a3c" stroke-width="0.5"/>
<line x1="403.5" y1="325.2" x2="403.5" y2="332" stroke="#3a3a3c" stroke-width="0.5"/>
<line x1="408.5" y1="325.2" x2="408.5" y2="332" stroke="#3a3a3c" stroke-width="0.5"/>
<line x1="413.5" y1="325.2" x2="413.5" y2="332" stroke="#3a3a3c" stroke-width="0.5"/>
<line x1="418.5" y1="325.2" x2="418.5" y2="332" stroke="#3a3a3c" stroke-width="0.5"/>
<line x1="423.5" y1="325.2" x2="423.5" y2="332" stroke="#3a3a3c" stroke-width="0.5"/>
<line x1="429.6" y1="325.2" x2="429.6" y2="332" stroke="#3a3a3c" stroke-width="0.5"/>
<rect x="383.2" y="331.3" width="46.6" height="1.7" fill="#3a3a3c"/>
<rect x="386.5" y="333" width="45" height="10.6" fill="#e6e7e8" stroke="#2e2e30" stroke-width="0.4"/>
<rect x="387.5" y="337.4" width="17" height="5.6" fill="#8c8f92"/>
<rect x="389.5" y="338.5" width="12" height="4.5" fill="#2e2e30"/>
<rect x="405" y="336.6" width="6" height="7" fill="#fbfbfb" stroke="#2e2e30" stroke-width="0.3"/>
<rect x="411.5" y="337.8" width="19" height="2" fill="#5a5c5f"/>
<rect x="411.5" y="340.8" width="19" height="2.6" fill="#c9cbcd"/>
<line x1="395" y1="333" x2="395" y2="343.6" stroke="#2e2e30" stroke-width="0.6"/>
<line x1="421" y1="333" x2="421" y2="343.6" stroke="#2e2e30" stroke-width="0.6"/>
<rect x="373.3" y="339.4" width="8.5" height="2.6" fill="#c9cbcd" stroke="#3a3a3c" stroke-width="0.3"/>
<rect x="597" y="309" width="17" height="8" fill="#f4f5f6" stroke="#2e2e30" stroke-width="0.5"/>
<line x1="597" y1="313" x2="614" y2="313" stroke="#2e2e30" stroke-width="0.4"/>
<line x1="602.5" y1="309" x2="602.5" y2="317" stroke="#2e2e30" stroke-width="0.4"/>
<line x1="608.5" y1="309" x2="608.5" y2="317" stroke="#2e2e30" stroke-width="0.4"/>
<rect x="604.8" y="303" width="9.6" height="14" fill="url(#gFun)" stroke="#5b3a12" stroke-width="0.4"/>
<rect x="587" y="317" width="45.5" height="12.4" fill="#f3f4f5" stroke="#2e2e30" stroke-width="0.4"/>
<line x1="590" y1="317" x2="590" y2="329.4" stroke="#3a3a3c" stroke-width="0.45"/>
<line x1="594.5" y1="317" x2="594.5" y2="329.4" stroke="#3a3a3c" stroke-width="0.45"/>
<line x1="599" y1="317" x2="599" y2="329.4" stroke="#3a3a3c" stroke-width="0.45"/>
<line x1="603.5" y1="317" x2="603.5" y2="329.4" stroke="#3a3a3c" stroke-width="0.45"/>
<line x1="608" y1="317" x2="608" y2="329.4" stroke="#3a3a3c" stroke-width="0.45"/>
<line x1="612.5" y1="317" x2="612.5" y2="329.4" stroke="#3a3a3c" stroke-width="0.45"/>
<line x1="617" y1="317" x2="617" y2="329.4" stroke="#3a3a3c" stroke-width="0.45"/>
<line x1="621.5" y1="317" x2="621.5" y2="329.4" stroke="#3a3a3c" stroke-width="0.45"/>
<line x1="626" y1="317" x2="626" y2="329.4" stroke="#3a3a3c" stroke-width="0.45"/>
<line x1="630.5" y1="317" x2="630.5" y2="329.4" stroke="#3a3a3c" stroke-width="0.45"/>
<line x1="587" y1="320.5" x2="632.5" y2="320.5" stroke="#3a3a3c" stroke-width="0.4"/>
<rect x="587" y="327.6" width="45.5" height="1.8" fill="#3a3a3c"/>
<rect x="590.6" y="319.6" width="3" height="4.4" fill="#2a2a2c"/>
<rect x="623.5" y="319.6" width="3" height="4.4" fill="#2a2a2c"/>
<rect x="607.3" y="320" width="3.4" height="5" fill="#3d4a44"/>
<rect x="593" y="329.8" width="21.5" height="9" fill="#f1f2f3" stroke="#2e2e30" stroke-width="0.4"/>
<rect x="600.5" y="333.4" width="5" height="5.4" fill="#2a2a2c"/>
<rect x="614.5" y="330.6" width="17" height="1.8" fill="#77797c"/>
<line x1="618" y1="329.4" x2="618" y2="338" stroke="#3a3a3c" stroke-width="0.5"/>
<line x1="624" y1="329.4" x2="624" y2="338" stroke="#3a3a3c" stroke-width="0.5"/>
<line x1="630" y1="329.4" x2="630" y2="338" stroke="#3a3a3c" stroke-width="0.5"/>
<line x1="73.4" y1="316.5" x2="73.4" y2="356" stroke="#2e2e30" stroke-width="0.9"/>
<line x1="74.10000000000001" y1="316.5" x2="74.10000000000001" y2="338" stroke="#b9bbbd" stroke-width="0.5"/>
<line x1="116.6" y1="317" x2="116.6" y2="356" stroke="#2e2e30" stroke-width="0.9"/>
<line x1="117.3" y1="317" x2="117.3" y2="338" stroke="#b9bbbd" stroke-width="0.5"/>
<line x1="138.2" y1="321" x2="138.2" y2="356" stroke="#2e2e30" stroke-width="0.9"/>
<line x1="138.89999999999998" y1="321" x2="138.89999999999998" y2="338" stroke="#b9bbbd" stroke-width="0.5"/>
<line x1="151" y1="320" x2="151" y2="350" stroke="#2e2e30" stroke-width="0.9"/>
<line x1="151.7" y1="320" x2="151.7" y2="338" stroke="#b9bbbd" stroke-width="0.5"/>
<line x1="181.2" y1="322" x2="181.2" y2="356" stroke="#2e2e30" stroke-width="0.9"/>
<line x1="181.89999999999998" y1="322" x2="181.89999999999998" y2="338" stroke="#b9bbbd" stroke-width="0.5"/>
<rect x="248.1" y="311.6" width="1.6" height="29.399999999999977" fill="#b4b6b9" stroke="#4a4a4c" stroke-width="0.35"/>
<line x1="248.9" y1="341" x2="248.9" y2="355" stroke="#1c1c1e" stroke-width="0.7"/>
<rect x="309.0" y="312" width="1.6" height="29" fill="#b4b6b9" stroke="#4a4a4c" stroke-width="0.35"/>
<line x1="309.8" y1="341" x2="309.8" y2="355" stroke="#1c1c1e" stroke-width="0.7"/>
<rect x="454.7" y="318.5" width="1.6" height="22.5" fill="#b4b6b9" stroke="#4a4a4c" stroke-width="0.35"/>
<line x1="455.5" y1="341" x2="455.5" y2="355" stroke="#1c1c1e" stroke-width="0.7"/>
<rect x="496.4" y="316.5" width="1.6" height="24.5" fill="#b4b6b9" stroke="#4a4a4c" stroke-width="0.35"/>
<line x1="497.2" y1="341" x2="497.2" y2="355" stroke="#1c1c1e" stroke-width="0.7"/>
<rect x="531.8000000000001" y="308.5" width="1.6" height="32.0" fill="#b4b6b9" stroke="#4a4a4c" stroke-width="0.35"/>
<line x1="532.6" y1="340.5" x2="532.6" y2="354.5" stroke="#1c1c1e" stroke-width="0.7"/>
<rect x="575.7" y="312" width="1.6" height="28" fill="#b4b6b9" stroke="#4a4a4c" stroke-width="0.35"/>
<line x1="576.5" y1="340" x2="576.5" y2="354" stroke="#1c1c1e" stroke-width="0.7"/>
</g>
<path d="M68.7,330 Q95.35,332.4 122,330 Q120,336.8 110,336.8 L77.7,336.8 Q69.7,336.8 68.7,330 Z" fill="url(#gBoat)" stroke="#333" stroke-width="0.5"/>
<path d="M68.7,330 Q95.35,332.4 122,330 L121.4,331.8 Q95.35,334.2 69.3,331.8 Z" fill="#242426"/>
<path d="M132,332.3 Q159.75,334.7 187.5,332.3 Q185.5,339 175.5,339 L141,339 Q133,339 132,332.3 Z" fill="url(#gBoat)" stroke="#333" stroke-width="0.5"/>
<path d="M132,332.3 Q159.75,334.7 187.5,332.3 L186.9,334.1 Q159.75,336.5 132.6,334.1 Z" fill="#242426"/>
<path d="M242.3,326.2 Q280.35,328.59999999999997 318.4,326.2 Q316.4,336.3 306.4,336.3 L251.3,336.3 Q243.3,336.3 242.3,326.2 Z" fill="url(#gBoat)" stroke="#333" stroke-width="0.5"/>
<path d="M242.3,326.2 Q280.35,328.59999999999997 318.4,326.2 L317.79999999999995,328.0 Q280.35,330.4 242.9,328.0 Z" fill="#242426"/>
<path d="M451.3,328.3 Q476.65,330.7 502,328.3 Q500,336.2 490,336.2 L460.3,336.2 Q452.3,336.2 451.3,328.3 Z" fill="url(#gBoat)" stroke="#333" stroke-width="0.5"/>
<path d="M451.3,328.3 Q476.65,330.7 502,328.3 L501.4,330.1 Q476.65,332.5 451.90000000000003,330.1 Z" fill="#242426"/>
<path d="M527,323.5 Q555.0,326.7 583,323.5 Q581,334.5 571,334.5 L536,334.5 Q528,334.5 527,323.5 Z" fill="url(#gBoat)" stroke="#333" stroke-width="0.5"/>
<path d="M527,323.5 Q555.0,326.7 583,323.5 L582.4,325.3 Q555.0,328.5 527.6,325.3 Z" fill="#242426"/>
<g opacity="0.68" fill="rgb(27,130,189)">
<path fill-rule="evenodd" d="M66.0,328.3 L72.3,354.7 L86.4,331.5 L84.2,358.6 L104.7,340.9 L94.3,365.9 L119.3,355.5 L101.6,376.0 L128.7,373.8 L105.5,387.9 L131.9,394.2 L105.5,400.5 L128.7,414.6 L101.6,412.4 L119.3,432.9 L94.3,422.5 L104.7,447.5 L84.2,429.8 L86.4,456.9 L72.3,433.7 L66.0,460.1 L59.7,433.7 L45.6,456.9 L47.8,429.8 L27.3,447.5 L37.7,422.5 L12.7,432.9 L30.4,412.4 L3.3,414.6 L26.5,400.5 L0.1,394.2 L26.5,387.9 L3.3,373.8 L30.4,376.0 L12.7,355.5 L37.7,365.9 L27.3,340.9 L47.8,358.6 L45.6,331.5 L59.7,354.7 Z M31,394.2 A35,35 0 0 1 101,394.2 Z"/>
<line x1="33.5" y1="380.4" x2="840" y2="380.4" stroke="rgb(27,130,189)" stroke-width="0.8"/>
</g>
<g filter="url(#fWM)"><text transform="translate(0,428.2) scale(0.7,1)" x="214.3 290.0 363.6 449.3 530.7 624.0 707.1 791.4 885.7 963.6 1056.4 1100.7 1197.1" font-family="'Liberation Serif', serif" font-weight="bold" font-size="102">SEATRACKER.RU</text></g>
<text transform="translate(0,43.9) scale(0.862,1)" font-family="'Liberation Sans', sans-serif" font-weight="bold" font-style="italic" font-size="12" fill="#1a1a1a" letter-spacing="0.35"><tspan x="49.42">Бронепалубный</tspan> <tspan x="157.54">крейсер</tspan> <tspan x="212.99">«Сесилль»</tspan></text>
</svg>
</body></html>
